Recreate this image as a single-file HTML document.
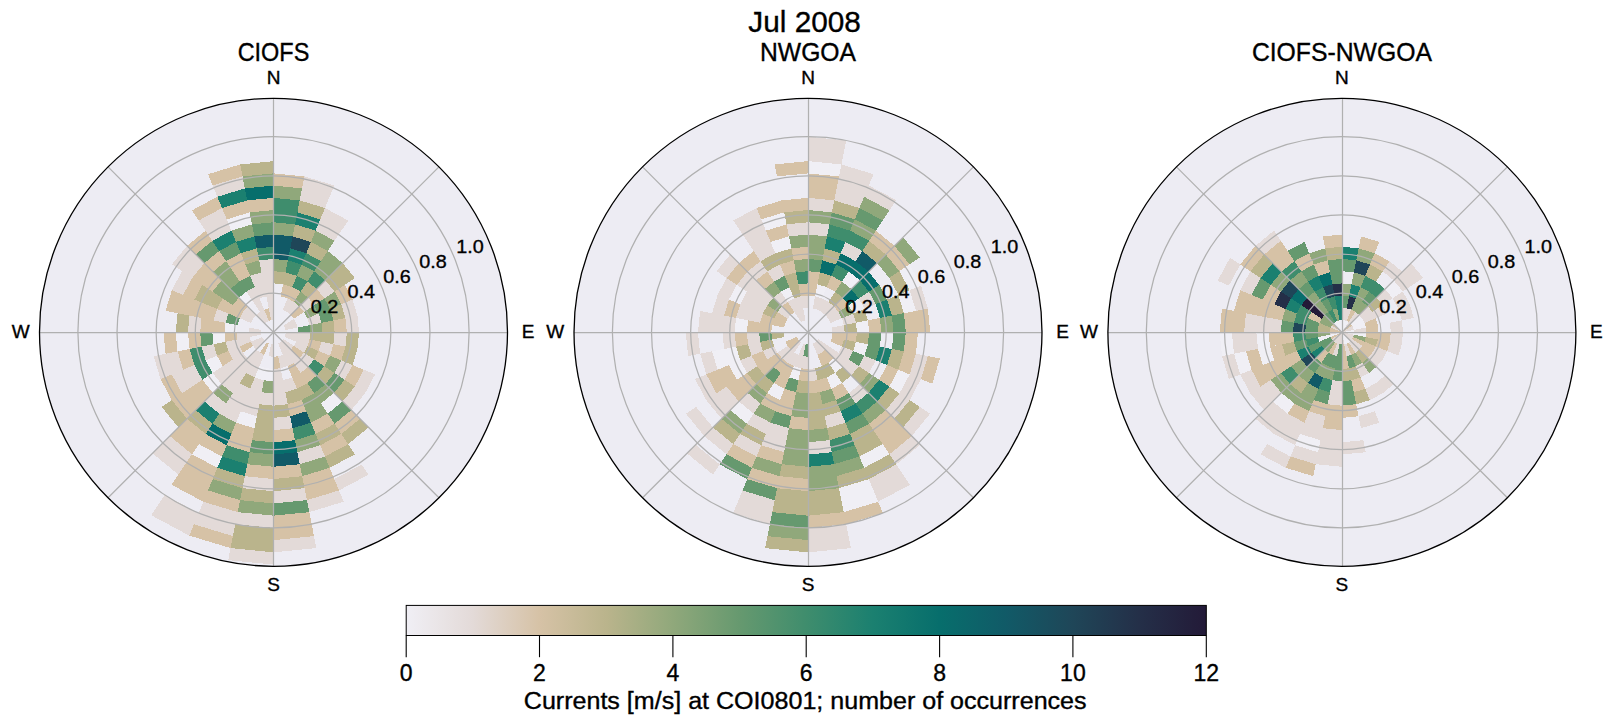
<!DOCTYPE html><html><head><meta charset="utf-8"><style>html,body{margin:0;padding:0;background:#fff;overflow:hidden}svg{display:block}text{font-family:"Liberation Sans",sans-serif;fill:#000;stroke:#000;stroke-width:0.35px}</style></head><body>
<svg width="1611" height="724" viewBox="0 0 1611 724">
<rect width="1611" height="724" fill="#fff"/>
<circle cx="273.50" cy="332.30" r="234.00" fill="#edecf3"/>
<g shape-rendering="crispEdges"><polygon points="273.50,283.40 273.50,271.18 285.42,272.35 283.04,284.34" fill="#bab48c"/>
<polygon points="273.50,271.18 273.50,258.95 287.81,260.36 285.42,272.35" fill="#90a87b"/>
<polygon points="273.50,258.95 273.50,246.73 290.19,248.37 287.81,260.36" fill="#115a67"/>
<polygon points="273.50,246.73 273.50,234.50 292.58,236.38 290.19,248.37" fill="#115a67"/>
<polygon points="273.50,234.50 273.50,222.28 294.96,224.39 292.58,236.38" fill="#90a87b"/>
<polygon points="273.50,222.28 273.50,210.05 297.35,212.40 294.96,224.39" fill="#3f8d6d"/>
<polygon points="273.50,210.05 273.50,197.83 299.73,200.41 297.35,212.40" fill="#3f8d6d"/>
<polygon points="273.50,197.83 273.50,185.60 302.12,188.42 299.73,200.41" fill="#90a87b"/>
<polygon points="273.50,185.60 273.50,173.38 304.50,176.43 302.12,188.42" fill="#d6c2a6"/>
<polygon points="280.65,296.33 283.04,284.34 292.21,287.12 287.53,298.42" fill="#d6c2a6"/>
<polygon points="283.04,284.34 285.42,272.35 296.89,275.83 292.21,287.12" fill="#bab48c"/>
<polygon points="285.42,272.35 287.81,260.36 301.57,264.53 296.89,275.83" fill="#3f8d6d"/>
<polygon points="287.81,260.36 290.19,248.37 306.25,253.24 301.57,264.53" fill="#1b8070"/>
<polygon points="290.19,248.37 292.58,236.38 310.93,241.94 306.25,253.24" fill="#1f4658"/>
<polygon points="292.58,236.38 294.96,224.39 315.60,230.65 310.93,241.94" fill="#bab48c"/>
<polygon points="294.96,224.39 297.35,212.40 320.28,219.36 315.60,230.65" fill="#1b8070"/>
<polygon points="297.35,212.40 299.73,200.41 324.96,208.06 320.28,219.36" fill="#bab48c"/>
<polygon points="299.73,200.41 302.12,188.42 329.64,196.77 324.96,208.06" fill="#e3dad8"/>
<polygon points="302.12,188.42 304.50,176.43 334.32,185.47 329.64,196.77" fill="#e3dad8"/>
<polygon points="282.86,309.71 287.53,298.42 293.88,301.81 287.08,311.97" fill="#e3dad8"/>
<polygon points="287.53,298.42 292.21,287.12 300.67,291.64 293.88,301.81" fill="#d6c2a6"/>
<polygon points="292.21,287.12 296.89,275.83 307.46,281.48 300.67,291.64" fill="#3f8d6d"/>
<polygon points="296.89,275.83 301.57,264.53 314.25,271.31 307.46,281.48" fill="#90a87b"/>
<polygon points="301.57,264.53 306.25,253.24 321.04,261.15 314.25,271.31" fill="#3f8d6d"/>
<polygon points="306.25,253.24 310.93,241.94 327.83,250.98 321.04,261.15" fill="#bab48c"/>
<polygon points="310.93,241.94 315.60,230.65 334.63,240.82 327.83,250.98" fill="#90a87b"/>
<polygon points="315.60,230.65 320.28,219.36 341.42,230.65 334.63,240.82" fill="#e3dad8"/>
<polygon points="320.28,219.36 324.96,208.06 348.21,220.49 341.42,230.65" fill="#e3dad8"/>
<polygon points="287.08,311.97 293.88,301.81 299.43,306.37 290.79,315.01" fill="#e3dad8"/>
<polygon points="293.88,301.81 300.67,291.64 308.08,297.72 299.43,306.37" fill="#90a87b"/>
<polygon points="300.67,291.64 307.46,281.48 316.72,289.08 308.08,297.72" fill="#bab48c"/>
<polygon points="307.46,281.48 314.25,271.31 325.37,280.43 316.72,289.08" fill="#3f8d6d"/>
<polygon points="314.25,271.31 321.04,261.15 334.01,271.79 325.37,280.43" fill="#90a87b"/>
<polygon points="321.04,261.15 327.83,250.98 342.66,263.14 334.01,271.79" fill="#90a87b"/>
<polygon points="290.79,315.01 299.43,306.37 303.99,311.92 293.83,318.72" fill="#d6c2a6"/>
<polygon points="299.43,306.37 308.08,297.72 314.16,305.13 303.99,311.92" fill="#e3dad8"/>
<polygon points="308.08,297.72 316.72,289.08 324.32,298.34 314.16,305.13" fill="#d6c2a6"/>
<polygon points="316.72,289.08 325.37,280.43 334.49,291.55 324.32,298.34" fill="#e3dad8"/>
<polygon points="325.37,280.43 334.01,271.79 344.65,284.76 334.49,291.55" fill="#bab48c"/>
<polygon points="334.01,271.79 342.66,263.14 354.82,277.97 344.65,284.76" fill="#bab48c"/>
<polygon points="283.66,325.51 293.83,318.72 296.09,322.94 284.79,327.62" fill="#e3dad8"/>
<polygon points="303.99,311.92 314.16,305.13 318.68,313.59 307.38,318.27" fill="#90a87b"/>
<polygon points="314.16,305.13 324.32,298.34 329.97,308.91 318.68,313.59" fill="#66996f"/>
<polygon points="324.32,298.34 334.49,291.55 341.27,304.23 329.97,308.91" fill="#90a87b"/>
<polygon points="334.49,291.55 344.65,284.76 352.56,299.55 341.27,304.23" fill="#d6c2a6"/>
<polygon points="284.79,327.62 296.09,322.94 297.48,327.53 285.49,329.92" fill="#e3dad8"/>
<polygon points="307.38,318.27 318.68,313.59 321.46,322.76 309.47,325.15" fill="#e3dad8"/>
<polygon points="318.68,313.59 329.97,308.91 333.45,320.38 321.46,322.76" fill="#66996f"/>
<polygon points="329.97,308.91 341.27,304.23 345.44,317.99 333.45,320.38" fill="#bab48c"/>
<polygon points="341.27,304.23 352.56,299.55 357.43,315.61 345.44,317.99" fill="#e3dad8"/>
<polygon points="297.48,327.53 309.47,325.15 310.18,332.30 297.95,332.30" fill="#66996f"/>
<polygon points="309.47,325.15 321.46,322.76 322.40,332.30 310.18,332.30" fill="#90a87b"/>
<polygon points="321.46,322.76 333.45,320.38 334.62,332.30 322.40,332.30" fill="#bab48c"/>
<polygon points="333.45,320.38 345.44,317.99 346.85,332.30 334.62,332.30" fill="#d6c2a6"/>
<polygon points="345.44,317.99 357.43,315.61 359.07,332.30 346.85,332.30" fill="#e3dad8"/>
<polygon points="285.73,332.30 297.95,332.30 297.48,337.07 285.49,334.68" fill="#e3dad8"/>
<polygon points="297.95,332.30 310.18,332.30 309.47,339.45 297.48,337.07" fill="#e3dad8"/>
<polygon points="310.18,332.30 322.40,332.30 321.46,341.84 309.47,339.45" fill="#bab48c"/>
<polygon points="322.40,332.30 334.62,332.30 333.45,344.22 321.46,341.84" fill="#bab48c"/>
<polygon points="334.62,332.30 346.85,332.30 345.44,346.61 333.45,344.22" fill="#e3dad8"/>
<polygon points="346.85,332.30 359.07,332.30 357.43,348.99 345.44,346.61" fill="#bab48c"/>
<polygon points="285.49,334.68 297.48,337.07 296.09,341.66 284.79,336.98" fill="#e3dad8"/>
<polygon points="297.48,337.07 309.47,339.45 307.38,346.33 296.09,341.66" fill="#e3dad8"/>
<polygon points="309.47,339.45 321.46,341.84 318.68,351.01 307.38,346.33" fill="#d6c2a6"/>
<polygon points="321.46,341.84 333.45,344.22 329.97,355.69 318.68,351.01" fill="#e3dad8"/>
<polygon points="333.45,344.22 345.44,346.61 341.27,360.37 329.97,355.69" fill="#d6c2a6"/>
<polygon points="345.44,346.61 357.43,348.99 352.56,365.05 341.27,360.37" fill="#bab48c"/>
<polygon points="296.09,341.66 307.38,346.33 303.99,352.68 293.83,345.88" fill="#e3dad8"/>
<polygon points="307.38,346.33 318.68,351.01 314.16,359.47 303.99,352.68" fill="#bab48c"/>
<polygon points="318.68,351.01 329.97,355.69 324.32,366.26 314.16,359.47" fill="#d6c2a6"/>
<polygon points="329.97,355.69 341.27,360.37 334.49,373.05 324.32,366.26" fill="#90a87b"/>
<polygon points="341.27,360.37 352.56,365.05 344.65,379.84 334.49,373.05" fill="#e3dad8"/>
<polygon points="352.56,365.05 363.86,369.73 354.82,386.63 344.65,379.84" fill="#d6c2a6"/>
<polygon points="363.86,369.73 375.15,374.40 364.98,393.43 354.82,386.63" fill="#e3dad8"/>
<polygon points="283.66,339.09 293.83,345.88 290.79,349.59 282.14,340.94" fill="#e3dad8"/>
<polygon points="293.83,345.88 303.99,352.68 299.43,358.23 290.79,349.59" fill="#d6c2a6"/>
<polygon points="303.99,352.68 314.16,359.47 308.08,366.88 299.43,358.23" fill="#e3dad8"/>
<polygon points="314.16,359.47 324.32,366.26 316.72,375.52 308.08,366.88" fill="#3f8d6d"/>
<polygon points="324.32,366.26 334.49,373.05 325.37,384.17 316.72,375.52" fill="#bab48c"/>
<polygon points="334.49,373.05 344.65,379.84 334.01,392.81 325.37,384.17" fill="#66996f"/>
<polygon points="344.65,379.84 354.82,386.63 342.66,401.46 334.01,392.81" fill="#bab48c"/>
<polygon points="354.82,386.63 364.98,393.43 351.30,410.10 342.66,401.46" fill="#e3dad8"/>
<polygon points="282.14,340.94 290.79,349.59 287.08,352.63 280.29,342.46" fill="#e3dad8"/>
<polygon points="290.79,349.59 299.43,358.23 293.88,362.79 287.08,352.63" fill="#e3dad8"/>
<polygon points="299.43,358.23 308.08,366.88 300.67,372.96 293.88,362.79" fill="#e3dad8"/>
<polygon points="308.08,366.88 316.72,375.52 307.46,383.12 300.67,372.96" fill="#d6c2a6"/>
<polygon points="316.72,375.52 325.37,384.17 314.25,393.29 307.46,383.12" fill="#66996f"/>
<polygon points="325.37,384.17 334.01,392.81 321.04,403.45 314.25,393.29" fill="#90a87b"/>
<polygon points="334.01,392.81 342.66,401.46 327.83,413.62 321.04,403.45" fill="#f0eff5"/>
<polygon points="342.66,401.46 351.30,410.10 334.63,423.78 327.83,413.62" fill="#66996f"/>
<polygon points="351.30,410.10 359.94,418.74 341.42,433.95 334.63,423.78" fill="#d6c2a6"/>
<polygon points="359.94,418.74 368.59,427.39 348.21,444.11 341.42,433.95" fill="#bab48c"/>
<polygon points="280.29,342.46 287.08,352.63 282.86,354.89 278.18,343.59" fill="#e3dad8"/>
<polygon points="287.08,352.63 293.88,362.79 287.53,366.18 282.86,354.89" fill="#e3dad8"/>
<polygon points="293.88,362.79 300.67,372.96 292.21,377.48 287.53,366.18" fill="#d6c2a6"/>
<polygon points="300.67,372.96 307.46,383.12 296.89,388.77 292.21,377.48" fill="#d6c2a6"/>
<polygon points="307.46,383.12 314.25,393.29 301.57,400.07 296.89,388.77" fill="#bab48c"/>
<polygon points="314.25,393.29 321.04,403.45 306.25,411.36 301.57,400.07" fill="#90a87b"/>
<polygon points="321.04,403.45 327.83,413.62 310.93,422.66 306.25,411.36" fill="#90a87b"/>
<polygon points="327.83,413.62 334.63,423.78 315.60,433.95 310.93,422.66" fill="#d6c2a6"/>
<polygon points="334.63,423.78 341.42,433.95 320.28,445.24 315.60,433.95" fill="#bab48c"/>
<polygon points="341.42,433.95 348.21,444.11 324.96,456.54 320.28,445.24" fill="#d6c2a6"/>
<polygon points="348.21,444.11 355.00,454.28 329.64,467.83 324.96,456.54" fill="#bab48c"/>
<polygon points="361.79,464.44 368.59,474.61 339.00,490.42 334.32,479.13" fill="#e3dad8"/>
<polygon points="282.86,354.89 287.53,366.18 280.65,368.27 278.27,356.28" fill="#e3dad8"/>
<polygon points="292.21,377.48 296.89,388.77 285.42,392.25 283.04,380.26" fill="#e3dad8"/>
<polygon points="296.89,388.77 301.57,400.07 287.81,404.24 285.42,392.25" fill="#bab48c"/>
<polygon points="301.57,400.07 306.25,411.36 290.19,416.23 287.81,404.24" fill="#d6c2a6"/>
<polygon points="306.25,411.36 310.93,422.66 292.58,428.22 290.19,416.23" fill="#115a67"/>
<polygon points="310.93,422.66 315.60,433.95 294.96,440.21 292.58,428.22" fill="#3f8d6d"/>
<polygon points="315.60,433.95 320.28,445.24 297.35,452.20 294.96,440.21" fill="#90a87b"/>
<polygon points="320.28,445.24 324.96,456.54 299.73,464.19 297.35,452.20" fill="#e3dad8"/>
<polygon points="324.96,456.54 329.64,467.83 302.12,476.18 299.73,464.19" fill="#90a87b"/>
<polygon points="329.64,467.83 334.32,479.13 304.50,488.17 302.12,476.18" fill="#d6c2a6"/>
<polygon points="334.32,479.13 339.00,490.42 306.89,500.16 304.50,488.17" fill="#d6c2a6"/>
<polygon points="339.00,490.42 343.67,501.72 309.27,512.15 306.89,500.16" fill="#e3dad8"/>
<polygon points="278.27,356.28 280.65,368.27 273.50,368.98 273.50,356.75" fill="#d6c2a6"/>
<polygon points="280.65,368.27 283.04,380.26 273.50,381.20 273.50,368.98" fill="#e3dad8"/>
<polygon points="283.04,380.26 285.42,392.25 273.50,393.43 273.50,381.20" fill="#e3dad8"/>
<polygon points="285.42,392.25 287.81,404.24 273.50,405.65 273.50,393.43" fill="#e3dad8"/>
<polygon points="287.81,404.24 290.19,416.23 273.50,417.88 273.50,405.65" fill="#bab48c"/>
<polygon points="290.19,416.23 292.58,428.22 273.50,430.10 273.50,417.88" fill="#e3dad8"/>
<polygon points="292.58,428.22 294.96,440.21 273.50,442.32 273.50,430.10" fill="#d6c2a6"/>
<polygon points="294.96,440.21 297.35,452.20 273.50,454.55 273.50,442.32" fill="#076e6c"/>
<polygon points="297.35,452.20 299.73,464.19 273.50,466.77 273.50,454.55" fill="#115a67"/>
<polygon points="299.73,464.19 302.12,476.18 273.50,479.00 273.50,466.77" fill="#d6c2a6"/>
<polygon points="302.12,476.18 304.50,488.17 273.50,491.23 273.50,479.00" fill="#bab48c"/>
<polygon points="304.50,488.17 306.89,500.16 273.50,503.45 273.50,491.23" fill="#e3dad8"/>
<polygon points="306.89,500.16 309.27,512.15 273.50,515.67 273.50,503.45" fill="#66996f"/>
<polygon points="309.27,512.15 311.66,524.14 273.50,527.90 273.50,515.67" fill="#d6c2a6"/>
<polygon points="311.66,524.14 314.04,536.13 273.50,540.12 273.50,527.90" fill="#d6c2a6"/>
<polygon points="314.04,536.13 316.43,548.12 273.50,552.35 273.50,540.12" fill="#e3dad8"/>
<polygon points="273.50,344.53 273.50,356.75 268.73,356.28 271.12,344.29" fill="#e3dad8"/>
<polygon points="273.50,368.98 273.50,381.20 263.96,380.26 266.35,368.27" fill="#f0eff5"/>
<polygon points="273.50,381.20 273.50,393.43 261.58,392.25 263.96,380.26" fill="#90a87b"/>
<polygon points="273.50,393.43 273.50,405.65 259.19,404.24 261.58,392.25" fill="#e3dad8"/>
<polygon points="273.50,405.65 273.50,417.88 256.81,416.23 259.19,404.24" fill="#bab48c"/>
<polygon points="273.50,417.88 273.50,430.10 254.42,428.22 256.81,416.23" fill="#bab48c"/>
<polygon points="273.50,430.10 273.50,442.32 252.04,440.21 254.42,428.22" fill="#bab48c"/>
<polygon points="273.50,442.32 273.50,454.55 249.65,452.20 252.04,440.21" fill="#66996f"/>
<polygon points="273.50,454.55 273.50,466.77 247.27,464.19 249.65,452.20" fill="#90a87b"/>
<polygon points="273.50,466.77 273.50,479.00 244.88,476.18 247.27,464.19" fill="#d6c2a6"/>
<polygon points="273.50,479.00 273.50,491.23 242.50,488.17 244.88,476.18" fill="#e3dad8"/>
<polygon points="273.50,491.23 273.50,503.45 240.11,500.16 242.50,488.17" fill="#bab48c"/>
<polygon points="273.50,503.45 273.50,515.67 237.73,512.15 240.11,500.16" fill="#90a87b"/>
<polygon points="273.50,515.67 273.50,527.90 235.34,524.14 237.73,512.15" fill="#e3dad8"/>
<polygon points="273.50,527.90 273.50,540.12 232.96,536.13 235.34,524.14" fill="#bab48c"/>
<polygon points="273.50,540.12 273.50,552.35 230.57,548.12 232.96,536.13" fill="#bab48c"/>
<polygon points="273.50,552.35 273.50,564.58 228.19,560.11 230.57,548.12" fill="#e3dad8"/>
<polygon points="266.35,368.27 263.96,380.26 254.79,377.48 259.47,366.18" fill="#f0eff5"/>
<polygon points="263.96,380.26 261.58,392.25 250.11,388.77 254.79,377.48" fill="#e3dad8"/>
<polygon points="261.58,392.25 259.19,404.24 245.43,400.07 250.11,388.77" fill="#e3dad8"/>
<polygon points="259.19,404.24 256.81,416.23 240.75,411.36 245.43,400.07" fill="#e3dad8"/>
<polygon points="256.81,416.23 254.42,428.22 236.07,422.66 240.75,411.36" fill="#f0eff5"/>
<polygon points="254.42,428.22 252.04,440.21 231.40,433.95 236.07,422.66" fill="#d6c2a6"/>
<polygon points="252.04,440.21 249.65,452.20 226.72,445.24 231.40,433.95" fill="#d6c2a6"/>
<polygon points="249.65,452.20 247.27,464.19 222.04,456.54 226.72,445.24" fill="#3f8d6d"/>
<polygon points="247.27,464.19 244.88,476.18 217.36,467.83 222.04,456.54" fill="#1b8070"/>
<polygon points="244.88,476.18 242.50,488.17 212.68,479.13 217.36,467.83" fill="#bab48c"/>
<polygon points="242.50,488.17 240.11,500.16 208.00,490.42 212.68,479.13" fill="#90a87b"/>
<polygon points="240.11,500.16 237.73,512.15 203.33,501.72 208.00,490.42" fill="#d6c2a6"/>
<polygon points="237.73,512.15 235.34,524.14 198.65,513.01 203.33,501.72" fill="#e3dad8"/>
<polygon points="235.34,524.14 232.96,536.13 193.97,524.31 198.65,513.01" fill="#e3dad8"/>
<polygon points="232.96,536.13 230.57,548.12 189.29,535.60 193.97,524.31" fill="#d6c2a6"/>
<polygon points="268.82,343.59 264.14,354.89 259.92,352.63 266.71,342.46" fill="#d6c2a6"/>
<polygon points="264.14,354.89 259.47,366.18 253.12,362.79 259.92,352.63" fill="#e3dad8"/>
<polygon points="259.47,366.18 254.79,377.48 246.33,372.96 253.12,362.79" fill="#e3dad8"/>
<polygon points="254.79,377.48 250.11,388.77 239.54,383.12 246.33,372.96" fill="#bab48c"/>
<polygon points="250.11,388.77 245.43,400.07 232.75,393.29 239.54,383.12" fill="#e3dad8"/>
<polygon points="245.43,400.07 240.75,411.36 225.96,403.45 232.75,393.29" fill="#e3dad8"/>
<polygon points="240.75,411.36 236.07,422.66 219.17,413.62 225.96,403.45" fill="#e3dad8"/>
<polygon points="236.07,422.66 231.40,433.95 212.37,423.78 219.17,413.62" fill="#90a87b"/>
<polygon points="231.40,433.95 226.72,445.24 205.58,433.95 212.37,423.78" fill="#076e6c"/>
<polygon points="226.72,445.24 222.04,456.54 198.79,444.11 205.58,433.95" fill="#d6c2a6"/>
<polygon points="222.04,456.54 217.36,467.83 192.00,454.28 198.79,444.11" fill="#f0eff5"/>
<polygon points="217.36,467.83 212.68,479.13 185.21,464.44 192.00,454.28" fill="#d6c2a6"/>
<polygon points="212.68,479.13 208.00,490.42 178.41,474.61 185.21,464.44" fill="#d6c2a6"/>
<polygon points="208.00,490.42 203.33,501.72 171.62,484.77 178.41,474.61" fill="#d6c2a6"/>
<polygon points="198.65,513.01 193.97,524.31 158.04,505.10 164.83,494.94" fill="#e3dad8"/>
<polygon points="193.97,524.31 189.29,535.60 151.25,515.26 158.04,505.10" fill="#e3dad8"/>
<polygon points="259.92,352.63 253.12,362.79 247.57,358.23 256.21,349.59" fill="#e3dad8"/>
<polygon points="253.12,362.79 246.33,372.96 238.92,366.88 247.57,358.23" fill="#e3dad8"/>
<polygon points="246.33,372.96 239.54,383.12 230.28,375.52 238.92,366.88" fill="#e3dad8"/>
<polygon points="239.54,383.12 232.75,393.29 221.63,384.17 230.28,375.52" fill="#e3dad8"/>
<polygon points="232.75,393.29 225.96,403.45 212.99,392.81 221.63,384.17" fill="#90a87b"/>
<polygon points="225.96,403.45 219.17,413.62 204.34,401.46 212.99,392.81" fill="#e3dad8"/>
<polygon points="219.17,413.62 212.37,423.78 195.70,410.10 204.34,401.46" fill="#1b8070"/>
<polygon points="212.37,423.78 205.58,433.95 187.06,418.74 195.70,410.10" fill="#bab48c"/>
<polygon points="205.58,433.95 198.79,444.11 178.41,427.39 187.06,418.74" fill="#d6c2a6"/>
<polygon points="198.79,444.11 192.00,454.28 169.77,436.03 178.41,427.39" fill="#d6c2a6"/>
<polygon points="192.00,454.28 185.21,464.44 161.12,444.68 169.77,436.03" fill="#e3dad8"/>
<polygon points="185.21,464.44 178.41,474.61 152.48,453.32 161.12,444.68" fill="#e3dad8"/>
<polygon points="264.86,340.94 256.21,349.59 253.17,345.88 263.34,339.09" fill="#e3dad8"/>
<polygon points="247.57,358.23 238.92,366.88 232.84,359.47 243.01,352.68" fill="#e3dad8"/>
<polygon points="238.92,366.88 230.28,375.52 222.68,366.26 232.84,359.47" fill="#e3dad8"/>
<polygon points="230.28,375.52 221.63,384.17 212.51,373.05 222.68,366.26" fill="#e3dad8"/>
<polygon points="221.63,384.17 212.99,392.81 202.35,379.84 212.51,373.05" fill="#f0eff5"/>
<polygon points="212.99,392.81 204.34,401.46 192.18,386.63 202.35,379.84" fill="#d6c2a6"/>
<polygon points="204.34,401.46 195.70,410.10 182.02,393.43 192.18,386.63" fill="#d6c2a6"/>
<polygon points="195.70,410.10 187.06,418.74 171.85,400.22 182.02,393.43" fill="#d6c2a6"/>
<polygon points="187.06,418.74 178.41,427.39 161.69,407.01 171.85,400.22" fill="#bab48c"/>
<polygon points="263.34,339.09 253.17,345.88 250.91,341.66 262.21,336.98" fill="#e3dad8"/>
<polygon points="253.17,345.88 243.01,352.68 239.62,346.33 250.91,341.66" fill="#d6c2a6"/>
<polygon points="243.01,352.68 232.84,359.47 228.32,351.01 239.62,346.33" fill="#e3dad8"/>
<polygon points="232.84,359.47 222.68,366.26 217.03,355.69 228.32,351.01" fill="#d6c2a6"/>
<polygon points="222.68,366.26 212.51,373.05 205.73,360.37 217.03,355.69" fill="#f0eff5"/>
<polygon points="212.51,373.05 202.35,379.84 194.44,365.05 205.73,360.37" fill="#3f8d6d"/>
<polygon points="202.35,379.84 192.18,386.63 183.14,369.73 194.44,365.05" fill="#e3dad8"/>
<polygon points="192.18,386.63 182.02,393.43 171.85,374.40 183.14,369.73" fill="#e3dad8"/>
<polygon points="182.02,393.43 171.85,400.22 160.56,379.08 171.85,374.40" fill="#d6c2a6"/>
<polygon points="250.91,341.66 239.62,346.33 237.53,339.45 249.52,337.07" fill="#e3dad8"/>
<polygon points="239.62,346.33 228.32,351.01 225.54,341.84 237.53,339.45" fill="#e3dad8"/>
<polygon points="228.32,351.01 217.03,355.69 213.55,344.22 225.54,341.84" fill="#bab48c"/>
<polygon points="217.03,355.69 205.73,360.37 201.56,346.61 213.55,344.22" fill="#e3dad8"/>
<polygon points="205.73,360.37 194.44,365.05 189.57,348.99 201.56,346.61" fill="#3f8d6d"/>
<polygon points="194.44,365.05 183.14,369.73 177.58,351.38 189.57,348.99" fill="#d6c2a6"/>
<polygon points="183.14,369.73 171.85,374.40 165.59,353.76 177.58,351.38" fill="#e3dad8"/>
<polygon points="171.85,374.40 160.56,379.08 153.60,356.15 165.59,353.76" fill="#e3dad8"/>
<polygon points="261.51,334.68 249.52,337.07 249.05,332.30 261.27,332.30" fill="#e3dad8"/>
<polygon points="249.52,337.07 237.53,339.45 236.82,332.30 249.05,332.30" fill="#e3dad8"/>
<polygon points="237.53,339.45 225.54,341.84 224.60,332.30 236.82,332.30" fill="#d6c2a6"/>
<polygon points="225.54,341.84 213.55,344.22 212.38,332.30 224.60,332.30" fill="#f0eff5"/>
<polygon points="213.55,344.22 201.56,346.61 200.15,332.30 212.38,332.30" fill="#66996f"/>
<polygon points="201.56,346.61 189.57,348.99 187.93,332.30 200.15,332.30" fill="#d6c2a6"/>
<polygon points="189.57,348.99 177.58,351.38 175.70,332.30 187.93,332.30" fill="#f0eff5"/>
<polygon points="177.58,351.38 165.59,353.76 163.48,332.30 175.70,332.30" fill="#d6c2a6"/>
<polygon points="261.27,332.30 249.05,332.30 249.52,327.53 261.51,329.92" fill="#e3dad8"/>
<polygon points="236.82,332.30 224.60,332.30 225.54,322.76 237.53,325.15" fill="#f0eff5"/>
<polygon points="224.60,332.30 212.38,332.30 213.55,320.38 225.54,322.76" fill="#d6c2a6"/>
<polygon points="212.38,332.30 200.15,332.30 201.56,317.99 213.55,320.38" fill="#d6c2a6"/>
<polygon points="200.15,332.30 187.93,332.30 189.57,315.61 201.56,317.99" fill="#e3dad8"/>
<polygon points="187.93,332.30 175.70,332.30 177.58,313.22 189.57,315.61" fill="#bab48c"/>
<polygon points="237.53,325.15 225.54,322.76 228.32,313.59 239.62,318.27" fill="#66996f"/>
<polygon points="225.54,322.76 213.55,320.38 217.03,308.91 228.32,313.59" fill="#e3dad8"/>
<polygon points="213.55,320.38 201.56,317.99 205.73,304.23 217.03,308.91" fill="#d6c2a6"/>
<polygon points="201.56,317.99 189.57,315.61 194.44,299.55 205.73,304.23" fill="#d6c2a6"/>
<polygon points="189.57,315.61 177.58,313.22 183.14,294.87 194.44,299.55" fill="#d6c2a6"/>
<polygon points="177.58,313.22 165.59,310.84 171.85,290.20 183.14,294.87" fill="#d6c2a6"/>
<polygon points="250.91,322.94 239.62,318.27 243.01,311.92 253.17,318.72" fill="#e3dad8"/>
<polygon points="239.62,318.27 228.32,313.59 232.84,305.13 243.01,311.92" fill="#d6c2a6"/>
<polygon points="228.32,313.59 217.03,308.91 222.68,298.34 232.84,305.13" fill="#d6c2a6"/>
<polygon points="217.03,308.91 205.73,304.23 212.51,291.55 222.68,298.34" fill="#bab48c"/>
<polygon points="205.73,304.23 194.44,299.55 202.35,284.76 212.51,291.55" fill="#bab48c"/>
<polygon points="194.44,299.55 183.14,294.87 192.18,277.97 202.35,284.76" fill="#d6c2a6"/>
<polygon points="183.14,294.87 171.85,290.20 182.02,271.17 192.18,277.97" fill="#e3dad8"/>
<polygon points="253.17,318.72 243.01,311.92 247.57,306.37 256.21,315.01" fill="#e3dad8"/>
<polygon points="243.01,311.92 232.84,305.13 238.92,297.72 247.57,306.37" fill="#d6c2a6"/>
<polygon points="232.84,305.13 222.68,298.34 230.28,289.08 238.92,297.72" fill="#90a87b"/>
<polygon points="222.68,298.34 212.51,291.55 221.63,280.43 230.28,289.08" fill="#90a87b"/>
<polygon points="212.51,291.55 202.35,284.76 212.99,271.79 221.63,280.43" fill="#d6c2a6"/>
<polygon points="202.35,284.76 192.18,277.97 204.34,263.14 212.99,271.79" fill="#d6c2a6"/>
<polygon points="192.18,277.97 182.02,271.17 195.70,254.50 204.34,263.14" fill="#e3dad8"/>
<polygon points="182.02,271.17 171.85,264.38 187.06,245.86 195.70,254.50" fill="#e3dad8"/>
<polygon points="264.86,323.66 256.21,315.01 259.92,311.97 266.71,322.14" fill="#e3dad8"/>
<polygon points="247.57,306.37 238.92,297.72 246.33,291.64 253.12,301.81" fill="#f0eff5"/>
<polygon points="238.92,297.72 230.28,289.08 239.54,281.48 246.33,291.64" fill="#66996f"/>
<polygon points="230.28,289.08 221.63,280.43 232.75,271.31 239.54,281.48" fill="#90a87b"/>
<polygon points="221.63,280.43 212.99,271.79 225.96,261.15 232.75,271.31" fill="#90a87b"/>
<polygon points="212.99,271.79 204.34,263.14 219.17,250.98 225.96,261.15" fill="#d6c2a6"/>
<polygon points="204.34,263.14 195.70,254.50 212.37,240.82 219.17,250.98" fill="#66996f"/>
<polygon points="195.70,254.50 187.06,245.86 205.58,230.65 212.37,240.82" fill="#d6c2a6"/>
<polygon points="266.71,322.14 259.92,311.97 264.14,309.71 268.82,321.01" fill="#e3dad8"/>
<polygon points="259.92,311.97 253.12,301.81 259.47,298.42 264.14,309.71" fill="#e3dad8"/>
<polygon points="253.12,301.81 246.33,291.64 254.79,287.12 259.47,298.42" fill="#e3dad8"/>
<polygon points="246.33,291.64 239.54,281.48 250.11,275.83 254.79,287.12" fill="#66996f"/>
<polygon points="239.54,281.48 232.75,271.31 245.43,264.53 250.11,275.83" fill="#d6c2a6"/>
<polygon points="232.75,271.31 225.96,261.15 240.75,253.24 245.43,264.53" fill="#d6c2a6"/>
<polygon points="225.96,261.15 219.17,250.98 236.07,241.94 240.75,253.24" fill="#66996f"/>
<polygon points="219.17,250.98 212.37,240.82 231.40,230.65 236.07,241.94" fill="#1b8070"/>
<polygon points="212.37,240.82 205.58,230.65 226.72,219.36 231.40,230.65" fill="#e3dad8"/>
<polygon points="205.58,230.65 198.79,220.49 222.04,208.06 226.72,219.36" fill="#e3dad8"/>
<polygon points="198.79,220.49 192.00,210.32 217.36,196.77 222.04,208.06" fill="#d6c2a6"/>
<polygon points="268.82,321.01 264.14,309.71 268.73,308.32 271.12,320.31" fill="#d6c2a6"/>
<polygon points="259.47,298.42 254.79,287.12 263.96,284.34 266.35,296.33" fill="#e3dad8"/>
<polygon points="254.79,287.12 250.11,275.83 261.58,272.35 263.96,284.34" fill="#e3dad8"/>
<polygon points="250.11,275.83 245.43,264.53 259.19,260.36 261.58,272.35" fill="#90a87b"/>
<polygon points="245.43,264.53 240.75,253.24 256.81,248.37 259.19,260.36" fill="#bab48c"/>
<polygon points="240.75,253.24 236.07,241.94 254.42,236.38 256.81,248.37" fill="#1b8070"/>
<polygon points="236.07,241.94 231.40,230.65 252.04,224.39 254.42,236.38" fill="#90a87b"/>
<polygon points="231.40,230.65 226.72,219.36 249.65,212.40 252.04,224.39" fill="#f0eff5"/>
<polygon points="226.72,219.36 222.04,208.06 247.27,200.41 249.65,212.40" fill="#d6c2a6"/>
<polygon points="222.04,208.06 217.36,196.77 244.88,188.42 247.27,200.41" fill="#1b8070"/>
<polygon points="217.36,196.77 212.68,185.47 242.50,176.43 244.88,188.42" fill="#e3dad8"/>
<polygon points="212.68,185.47 208.00,174.18 240.11,164.44 242.50,176.43" fill="#d6c2a6"/>
<polygon points="271.12,320.31 268.73,308.32 273.50,307.85 273.50,320.07" fill="#e3dad8"/>
<polygon points="268.73,308.32 266.35,296.33 273.50,295.62 273.50,307.85" fill="#e3dad8"/>
<polygon points="266.35,296.33 263.96,284.34 273.50,283.40 273.50,295.62" fill="#e3dad8"/>
<polygon points="263.96,284.34 261.58,272.35 273.50,271.18 273.50,283.40" fill="#e3dad8"/>
<polygon points="261.58,272.35 259.19,260.36 273.50,258.95 273.50,271.18" fill="#e3dad8"/>
<polygon points="259.19,260.36 256.81,248.37 273.50,246.73 273.50,258.95" fill="#3f8d6d"/>
<polygon points="256.81,248.37 254.42,236.38 273.50,234.50 273.50,246.73" fill="#115a67"/>
<polygon points="254.42,236.38 252.04,224.39 273.50,222.28 273.50,234.50" fill="#66996f"/>
<polygon points="252.04,224.39 249.65,212.40 273.50,210.05 273.50,222.28" fill="#90a87b"/>
<polygon points="249.65,212.40 247.27,200.41 273.50,197.83 273.50,210.05" fill="#d6c2a6"/>
<polygon points="247.27,200.41 244.88,188.42 273.50,185.60 273.50,197.83" fill="#076e6c"/>
<polygon points="244.88,188.42 242.50,176.43 273.50,173.38 273.50,185.60" fill="#90a87b"/>
<polygon points="242.50,176.43 240.11,164.44 273.50,161.15 273.50,173.38" fill="#bab48c"/></g>
<circle cx="273.50" cy="332.30" r="39.12" fill="none" stroke="#b0b0b0" stroke-width="1.25"/>
<circle cx="273.50" cy="332.30" r="78.24" fill="none" stroke="#b0b0b0" stroke-width="1.25"/>
<circle cx="273.50" cy="332.30" r="117.36" fill="none" stroke="#b0b0b0" stroke-width="1.25"/>
<circle cx="273.50" cy="332.30" r="156.48" fill="none" stroke="#b0b0b0" stroke-width="1.25"/>
<circle cx="273.50" cy="332.30" r="195.60" fill="none" stroke="#b0b0b0" stroke-width="1.25"/>
<line x1="273.50" y1="332.30" x2="273.50" y2="98.30" stroke="#b0b0b0" stroke-width="1.25"/>
<line x1="273.50" y1="332.30" x2="438.96" y2="166.84" stroke="#b0b0b0" stroke-width="1.25"/>
<line x1="273.50" y1="332.50" x2="507.50" y2="332.50" stroke="#b0b0b0" stroke-width="1.25"/>
<line x1="273.50" y1="332.30" x2="438.96" y2="497.76" stroke="#b0b0b0" stroke-width="1.25"/>
<line x1="273.50" y1="332.30" x2="273.50" y2="566.30" stroke="#b0b0b0" stroke-width="1.25"/>
<line x1="273.50" y1="332.30" x2="108.04" y2="497.76" stroke="#b0b0b0" stroke-width="1.25"/>
<line x1="273.50" y1="332.50" x2="39.50" y2="332.50" stroke="#b0b0b0" stroke-width="1.25"/>
<line x1="273.50" y1="332.30" x2="108.04" y2="166.84" stroke="#b0b0b0" stroke-width="1.25"/>
<circle cx="273.50" cy="332.30" r="234.00" fill="none" stroke="#000" stroke-width="1.3"/>
<text x="273.5" y="83.7" font-size="19.0" text-anchor="middle">N</text>
<text x="273.5" y="591.0" font-size="19.0" text-anchor="middle">S</text>
<text x="20.6" y="337.9" font-size="19.0" text-anchor="middle">W</text>
<text x="528.0" y="337.9" font-size="19.0" text-anchor="middle">E</text>
<text x="324.5" y="312.8" font-size="19.0" text-anchor="middle" textLength="27.5" lengthAdjust="spacingAndGlyphs">0.2</text>
<text x="361.2" y="298.0" font-size="19.0" text-anchor="middle" textLength="27.5" lengthAdjust="spacingAndGlyphs">0.4</text>
<text x="397.1" y="282.8" font-size="19.0" text-anchor="middle" textLength="27.5" lengthAdjust="spacingAndGlyphs">0.6</text>
<text x="433.0" y="267.7" font-size="19.0" text-anchor="middle" textLength="27.5" lengthAdjust="spacingAndGlyphs">0.8</text>
<text x="469.9" y="253.1" font-size="19.0" text-anchor="middle" textLength="27.5" lengthAdjust="spacingAndGlyphs">1.0</text>
<text x="273.5" y="60.9" font-size="25.0" text-anchor="middle" textLength="71.6" lengthAdjust="spacingAndGlyphs">CIOFS</text>
<circle cx="808.00" cy="332.30" r="234.00" fill="#edecf3"/>
<g shape-rendering="crispEdges"><polygon points="808.00,295.62 808.00,283.40 817.54,284.34 815.15,296.33" fill="#d6c2a6"/>
<polygon points="808.00,283.40 808.00,271.18 819.92,272.35 817.54,284.34" fill="#d6c2a6"/>
<polygon points="808.00,271.18 808.00,258.95 822.31,260.36 819.92,272.35" fill="#66996f"/>
<polygon points="808.00,258.95 808.00,246.73 824.69,248.37 822.31,260.36" fill="#90a87b"/>
<polygon points="808.00,246.73 808.00,234.50 827.08,236.38 824.69,248.37" fill="#90a87b"/>
<polygon points="808.00,234.50 808.00,222.28 829.46,224.39 827.08,236.38" fill="#e3dad8"/>
<polygon points="808.00,222.28 808.00,210.05 831.85,212.40 829.46,224.39" fill="#90a87b"/>
<polygon points="808.00,210.05 808.00,197.83 834.23,200.41 831.85,212.40" fill="#e3dad8"/>
<polygon points="808.00,197.83 808.00,185.60 836.62,188.42 834.23,200.41" fill="#d6c2a6"/>
<polygon points="808.00,185.60 808.00,173.38 839.00,176.43 836.62,188.42" fill="#d6c2a6"/>
<polygon points="808.00,173.38 808.00,161.15 841.39,164.44 839.00,176.43" fill="#f0eff5"/>
<polygon points="808.00,161.15 808.00,148.93 843.77,152.45 841.39,164.44" fill="#e3dad8"/>
<polygon points="808.00,148.93 808.00,136.70 846.16,140.46 843.77,152.45" fill="#e3dad8"/>
<polygon points="812.77,308.32 815.15,296.33 822.03,298.42 817.36,309.71" fill="#e3dad8"/>
<polygon points="815.15,296.33 817.54,284.34 826.71,287.12 822.03,298.42" fill="#f0eff5"/>
<polygon points="817.54,284.34 819.92,272.35 831.39,275.83 826.71,287.12" fill="#bab48c"/>
<polygon points="819.92,272.35 822.31,260.36 836.07,264.53 831.39,275.83" fill="#076e6c"/>
<polygon points="822.31,260.36 824.69,248.37 840.75,253.24 836.07,264.53" fill="#bab48c"/>
<polygon points="824.69,248.37 827.08,236.38 845.43,241.94 840.75,253.24" fill="#1b8070"/>
<polygon points="827.08,236.38 829.46,224.39 850.10,230.65 845.43,241.94" fill="#3f8d6d"/>
<polygon points="829.46,224.39 831.85,212.40 854.78,219.36 850.10,230.65" fill="#66996f"/>
<polygon points="831.85,212.40 834.23,200.41 859.46,208.06 854.78,219.36" fill="#bab48c"/>
<polygon points="834.23,200.41 836.62,188.42 864.14,196.77 859.46,208.06" fill="#e3dad8"/>
<polygon points="836.62,188.42 839.00,176.43 868.82,185.47 864.14,196.77" fill="#e3dad8"/>
<polygon points="839.00,176.43 841.39,164.44 873.50,174.18 868.82,185.47" fill="#e3dad8"/>
<polygon points="817.36,309.71 822.03,298.42 828.38,301.81 821.58,311.97" fill="#e3dad8"/>
<polygon points="826.71,287.12 831.39,275.83 841.96,281.48 835.17,291.64" fill="#d6c2a6"/>
<polygon points="831.39,275.83 836.07,264.53 848.75,271.31 841.96,281.48" fill="#3f8d6d"/>
<polygon points="836.07,264.53 840.75,253.24 855.54,261.15 848.75,271.31" fill="#076e6c"/>
<polygon points="840.75,253.24 845.43,241.94 862.33,250.98 855.54,261.15" fill="#e3dad8"/>
<polygon points="845.43,241.94 850.10,230.65 869.13,240.82 862.33,250.98" fill="#3f8d6d"/>
<polygon points="850.10,230.65 854.78,219.36 875.92,230.65 869.13,240.82" fill="#90a87b"/>
<polygon points="854.78,219.36 859.46,208.06 882.71,220.49 875.92,230.65" fill="#66996f"/>
<polygon points="859.46,208.06 864.14,196.77 889.50,210.32 882.71,220.49" fill="#90a87b"/>
<polygon points="864.14,196.77 868.82,185.47 896.29,200.16 889.50,210.32" fill="#e3dad8"/>
<polygon points="821.58,311.97 828.38,301.81 833.93,306.37 825.29,315.01" fill="#e3dad8"/>
<polygon points="828.38,301.81 835.17,291.64 842.58,297.72 833.93,306.37" fill="#bab48c"/>
<polygon points="835.17,291.64 841.96,281.48 851.22,289.08 842.58,297.72" fill="#90a87b"/>
<polygon points="841.96,281.48 848.75,271.31 859.87,280.43 851.22,289.08" fill="#f0eff5"/>
<polygon points="848.75,271.31 855.54,261.15 868.51,271.79 859.87,280.43" fill="#076e6c"/>
<polygon points="855.54,261.15 862.33,250.98 877.16,263.14 868.51,271.79" fill="#115a67"/>
<polygon points="862.33,250.98 869.13,240.82 885.80,254.50 877.16,263.14" fill="#bab48c"/>
<polygon points="869.13,240.82 875.92,230.65 894.44,245.86 885.80,254.50" fill="#d6c2a6"/>
<polygon points="825.29,315.01 833.93,306.37 838.49,311.92 828.33,318.72" fill="#e3dad8"/>
<polygon points="833.93,306.37 842.58,297.72 848.66,305.13 838.49,311.92" fill="#d6c2a6"/>
<polygon points="842.58,297.72 851.22,289.08 858.82,298.34 848.66,305.13" fill="#076e6c"/>
<polygon points="851.22,289.08 859.87,280.43 868.99,291.55 858.82,298.34" fill="#3f8d6d"/>
<polygon points="859.87,280.43 868.51,271.79 879.15,284.76 868.99,291.55" fill="#076e6c"/>
<polygon points="877.16,263.14 885.80,254.50 899.48,271.17 889.32,277.97" fill="#90a87b"/>
<polygon points="885.80,254.50 894.44,245.86 909.65,264.38 899.48,271.17" fill="#d6c2a6"/>
<polygon points="894.44,245.86 903.09,237.21 919.81,257.59 909.65,264.38" fill="#90a87b"/>
<polygon points="828.33,318.72 838.49,311.92 841.88,318.27 830.59,322.94" fill="#e3dad8"/>
<polygon points="838.49,311.92 848.66,305.13 853.18,313.59 841.88,318.27" fill="#90a87b"/>
<polygon points="858.82,298.34 868.99,291.55 875.77,304.23 864.47,308.91" fill="#e3dad8"/>
<polygon points="868.99,291.55 879.15,284.76 887.06,299.55 875.77,304.23" fill="#66996f"/>
<polygon points="889.32,277.97 899.48,271.17 909.65,290.20 898.36,294.87" fill="#bab48c"/>
<polygon points="899.48,271.17 909.65,264.38 920.94,285.52 909.65,290.20" fill="#f0eff5"/>
<polygon points="841.88,318.27 853.18,313.59 855.96,322.76 843.97,325.15" fill="#e3dad8"/>
<polygon points="853.18,313.59 864.47,308.91 867.95,320.38 855.96,322.76" fill="#bab48c"/>
<polygon points="875.77,304.23 887.06,299.55 891.93,315.61 879.94,317.99" fill="#1b8070"/>
<polygon points="887.06,299.55 898.36,294.87 903.92,313.22 891.93,315.61" fill="#bab48c"/>
<polygon points="898.36,294.87 909.65,290.20 915.91,310.84 903.92,313.22" fill="#f0eff5"/>
<polygon points="909.65,290.20 920.94,285.52 927.90,308.45 915.91,310.84" fill="#e3dad8"/>
<polygon points="831.98,327.53 843.97,325.15 844.67,332.30 832.45,332.30" fill="#e3dad8"/>
<polygon points="843.97,325.15 855.96,322.76 856.90,332.30 844.67,332.30" fill="#bab48c"/>
<polygon points="855.96,322.76 867.95,320.38 869.12,332.30 856.90,332.30" fill="#f0eff5"/>
<polygon points="867.95,320.38 879.94,317.99 881.35,332.30 869.12,332.30" fill="#d6c2a6"/>
<polygon points="879.94,317.99 891.93,315.61 893.58,332.30 881.35,332.30" fill="#90a87b"/>
<polygon points="891.93,315.61 903.92,313.22 905.80,332.30 893.58,332.30" fill="#66996f"/>
<polygon points="903.92,313.22 915.91,310.84 918.02,332.30 905.80,332.30" fill="#d6c2a6"/>
<polygon points="915.91,310.84 927.90,308.45 930.25,332.30 918.02,332.30" fill="#d6c2a6"/>
<polygon points="832.45,332.30 844.67,332.30 843.97,339.45 831.98,337.07" fill="#d6c2a6"/>
<polygon points="844.67,332.30 856.90,332.30 855.96,341.84 843.97,339.45" fill="#d6c2a6"/>
<polygon points="856.90,332.30 869.12,332.30 867.95,344.22 855.96,341.84" fill="#bab48c"/>
<polygon points="869.12,332.30 881.35,332.30 879.94,346.61 867.95,344.22" fill="#66996f"/>
<polygon points="893.58,332.30 905.80,332.30 903.92,351.38 891.93,348.99" fill="#66996f"/>
<polygon points="905.80,332.30 918.02,332.30 915.91,353.76 903.92,351.38" fill="#d6c2a6"/>
<polygon points="831.98,337.07 843.97,339.45 841.88,346.33 830.59,341.66" fill="#d6c2a6"/>
<polygon points="843.97,339.45 855.96,341.84 853.18,351.01 841.88,346.33" fill="#bab48c"/>
<polygon points="855.96,341.84 867.95,344.22 864.47,355.69 853.18,351.01" fill="#f0eff5"/>
<polygon points="867.95,344.22 879.94,346.61 875.77,360.37 864.47,355.69" fill="#66996f"/>
<polygon points="879.94,346.61 891.93,348.99 887.06,365.05 875.77,360.37" fill="#1b8070"/>
<polygon points="891.93,348.99 903.92,351.38 898.36,369.73 887.06,365.05" fill="#bab48c"/>
<polygon points="903.92,351.38 915.91,353.76 909.65,374.40 898.36,369.73" fill="#d6c2a6"/>
<polygon points="915.91,353.76 927.90,356.15 920.94,379.08 909.65,374.40" fill="#e3dad8"/>
<polygon points="927.90,356.15 939.89,358.53 932.24,383.76 920.94,379.08" fill="#d6c2a6"/>
<polygon points="841.88,346.33 853.18,351.01 848.66,359.47 838.49,352.68" fill="#e3dad8"/>
<polygon points="853.18,351.01 864.47,355.69 858.82,366.26 848.66,359.47" fill="#66996f"/>
<polygon points="864.47,355.69 875.77,360.37 868.99,373.05 858.82,366.26" fill="#e3dad8"/>
<polygon points="887.06,365.05 898.36,369.73 889.32,386.63 879.15,379.84" fill="#d6c2a6"/>
<polygon points="898.36,369.73 909.65,374.40 899.48,393.43 889.32,386.63" fill="#f0eff5"/>
<polygon points="909.65,374.40 920.94,379.08 909.65,400.22 899.48,393.43" fill="#e3dad8"/>
<polygon points="818.16,339.09 828.33,345.88 825.29,349.59 816.64,340.94" fill="#e3dad8"/>
<polygon points="828.33,345.88 838.49,352.68 833.93,358.23 825.29,349.59" fill="#e3dad8"/>
<polygon points="838.49,352.68 848.66,359.47 842.58,366.88 833.93,358.23" fill="#e3dad8"/>
<polygon points="848.66,359.47 858.82,366.26 851.22,375.52 842.58,366.88" fill="#e3dad8"/>
<polygon points="858.82,366.26 868.99,373.05 859.87,384.17 851.22,375.52" fill="#bab48c"/>
<polygon points="868.99,373.05 879.15,379.84 868.51,392.81 859.87,384.17" fill="#90a87b"/>
<polygon points="879.15,379.84 889.32,386.63 877.16,401.46 868.51,392.81" fill="#1b8070"/>
<polygon points="889.32,386.63 899.48,393.43 885.80,410.10 877.16,401.46" fill="#bab48c"/>
<polygon points="899.48,393.43 909.65,400.22 894.44,418.74 885.80,410.10" fill="#e3dad8"/>
<polygon points="909.65,400.22 919.81,407.01 903.09,427.39 894.44,418.74" fill="#bab48c"/>
<polygon points="919.81,407.01 929.98,413.80 911.73,436.03 903.09,427.39" fill="#e3dad8"/>
<polygon points="816.64,340.94 825.29,349.59 821.58,352.63 814.79,342.46" fill="#e3dad8"/>
<polygon points="825.29,349.59 833.93,358.23 828.38,362.79 821.58,352.63" fill="#d6c2a6"/>
<polygon points="833.93,358.23 842.58,366.88 835.17,372.96 828.38,362.79" fill="#f0eff5"/>
<polygon points="842.58,366.88 851.22,375.52 841.96,383.12 835.17,372.96" fill="#bab48c"/>
<polygon points="859.87,384.17 868.51,392.81 855.54,403.45 848.75,393.29" fill="#e3dad8"/>
<polygon points="868.51,392.81 877.16,401.46 862.33,413.62 855.54,403.45" fill="#3f8d6d"/>
<polygon points="877.16,401.46 885.80,410.10 869.13,423.78 862.33,413.62" fill="#90a87b"/>
<polygon points="885.80,410.10 894.44,418.74 875.92,433.95 869.13,423.78" fill="#d6c2a6"/>
<polygon points="894.44,418.74 903.09,427.39 882.71,444.11 875.92,433.95" fill="#d6c2a6"/>
<polygon points="903.09,427.39 911.73,436.03 889.50,454.28 882.71,444.11" fill="#d6c2a6"/>
<polygon points="911.73,436.03 920.38,444.68 896.29,464.44 889.50,454.28" fill="#e3dad8"/>
<polygon points="814.79,342.46 821.58,352.63 817.36,354.89 812.68,343.59" fill="#e3dad8"/>
<polygon points="821.58,352.63 828.38,362.79 822.03,366.18 817.36,354.89" fill="#d6c2a6"/>
<polygon points="828.38,362.79 835.17,372.96 826.71,377.48 822.03,366.18" fill="#bab48c"/>
<polygon points="835.17,372.96 841.96,383.12 831.39,388.77 826.71,377.48" fill="#f0eff5"/>
<polygon points="841.96,383.12 848.75,393.29 836.07,400.07 831.39,388.77" fill="#d6c2a6"/>
<polygon points="848.75,393.29 855.54,403.45 840.75,411.36 836.07,400.07" fill="#66996f"/>
<polygon points="855.54,403.45 862.33,413.62 845.43,422.66 840.75,411.36" fill="#1b8070"/>
<polygon points="862.33,413.62 869.13,423.78 850.10,433.95 845.43,422.66" fill="#66996f"/>
<polygon points="869.13,423.78 875.92,433.95 854.78,445.24 850.10,433.95" fill="#bab48c"/>
<polygon points="875.92,433.95 882.71,444.11 859.46,456.54 854.78,445.24" fill="#bab48c"/>
<polygon points="882.71,444.11 889.50,454.28 864.14,467.83 859.46,456.54" fill="#f0eff5"/>
<polygon points="889.50,454.28 896.29,464.44 868.82,479.13 864.14,467.83" fill="#bab48c"/>
<polygon points="896.29,464.44 903.09,474.61 873.50,490.42 868.82,479.13" fill="#e3dad8"/>
<polygon points="903.09,474.61 909.88,484.77 878.17,501.72 873.50,490.42" fill="#e3dad8"/>
<polygon points="822.03,366.18 826.71,377.48 817.54,380.26 815.15,368.27" fill="#bab48c"/>
<polygon points="826.71,377.48 831.39,388.77 819.92,392.25 817.54,380.26" fill="#d6c2a6"/>
<polygon points="831.39,388.77 836.07,400.07 822.31,404.24 819.92,392.25" fill="#90a87b"/>
<polygon points="836.07,400.07 840.75,411.36 824.69,416.23 822.31,404.24" fill="#bab48c"/>
<polygon points="840.75,411.36 845.43,422.66 827.08,428.22 824.69,416.23" fill="#e3dad8"/>
<polygon points="845.43,422.66 850.10,433.95 829.46,440.21 827.08,428.22" fill="#bab48c"/>
<polygon points="850.10,433.95 854.78,445.24 831.85,452.20 829.46,440.21" fill="#3f8d6d"/>
<polygon points="854.78,445.24 859.46,456.54 834.23,464.19 831.85,452.20" fill="#66996f"/>
<polygon points="859.46,456.54 864.14,467.83 836.62,476.18 834.23,464.19" fill="#90a87b"/>
<polygon points="864.14,467.83 868.82,479.13 839.00,488.17 836.62,476.18" fill="#bab48c"/>
<polygon points="868.82,479.13 873.50,490.42 841.39,500.16 839.00,488.17" fill="#f0eff5"/>
<polygon points="873.50,490.42 878.17,501.72 843.77,512.15 841.39,500.16" fill="#f0eff5"/>
<polygon points="878.17,501.72 882.85,513.01 846.16,524.14 843.77,512.15" fill="#d6c2a6"/>
<polygon points="815.15,368.27 817.54,380.26 808.00,381.20 808.00,368.98" fill="#e3dad8"/>
<polygon points="817.54,380.26 819.92,392.25 808.00,393.43 808.00,381.20" fill="#d6c2a6"/>
<polygon points="819.92,392.25 822.31,404.24 808.00,405.65 808.00,393.43" fill="#bab48c"/>
<polygon points="822.31,404.24 824.69,416.23 808.00,417.88 808.00,405.65" fill="#bab48c"/>
<polygon points="824.69,416.23 827.08,428.22 808.00,430.10 808.00,417.88" fill="#bab48c"/>
<polygon points="827.08,428.22 829.46,440.21 808.00,442.32 808.00,430.10" fill="#90a87b"/>
<polygon points="829.46,440.21 831.85,452.20 808.00,454.55 808.00,442.32" fill="#e3dad8"/>
<polygon points="831.85,452.20 834.23,464.19 808.00,466.77 808.00,454.55" fill="#1b8070"/>
<polygon points="834.23,464.19 836.62,476.18 808.00,479.00 808.00,466.77" fill="#90a87b"/>
<polygon points="836.62,476.18 839.00,488.17 808.00,491.23 808.00,479.00" fill="#90a87b"/>
<polygon points="839.00,488.17 841.39,500.16 808.00,503.45 808.00,491.23" fill="#bab48c"/>
<polygon points="841.39,500.16 843.77,512.15 808.00,515.67 808.00,503.45" fill="#bab48c"/>
<polygon points="843.77,512.15 846.16,524.14 808.00,527.90 808.00,515.67" fill="#d6c2a6"/>
<polygon points="846.16,524.14 848.54,536.13 808.00,540.12 808.00,527.90" fill="#e3dad8"/>
<polygon points="848.54,536.13 850.93,548.12 808.00,552.35 808.00,540.12" fill="#e3dad8"/>
<polygon points="808.00,344.53 808.00,356.75 803.23,356.28 805.62,344.29" fill="#66996f"/>
<polygon points="808.00,356.75 808.00,368.98 800.85,368.27 803.23,356.28" fill="#e3dad8"/>
<polygon points="808.00,368.98 808.00,381.20 798.46,380.26 800.85,368.27" fill="#d6c2a6"/>
<polygon points="808.00,381.20 808.00,393.43 796.08,392.25 798.46,380.26" fill="#bab48c"/>
<polygon points="808.00,393.43 808.00,405.65 793.69,404.24 796.08,392.25" fill="#90a87b"/>
<polygon points="808.00,405.65 808.00,417.88 791.31,416.23 793.69,404.24" fill="#90a87b"/>
<polygon points="808.00,417.88 808.00,430.10 788.92,428.22 791.31,416.23" fill="#d6c2a6"/>
<polygon points="808.00,430.10 808.00,442.32 786.54,440.21 788.92,428.22" fill="#90a87b"/>
<polygon points="808.00,442.32 808.00,454.55 784.15,452.20 786.54,440.21" fill="#90a87b"/>
<polygon points="808.00,454.55 808.00,466.77 781.77,464.19 784.15,452.20" fill="#90a87b"/>
<polygon points="808.00,466.77 808.00,479.00 779.38,476.18 781.77,464.19" fill="#bab48c"/>
<polygon points="808.00,479.00 808.00,491.23 777.00,488.17 779.38,476.18" fill="#d6c2a6"/>
<polygon points="808.00,491.23 808.00,503.45 774.61,500.16 777.00,488.17" fill="#bab48c"/>
<polygon points="808.00,503.45 808.00,515.67 772.23,512.15 774.61,500.16" fill="#bab48c"/>
<polygon points="808.00,515.67 808.00,527.90 769.84,524.14 772.23,512.15" fill="#66996f"/>
<polygon points="808.00,527.90 808.00,540.12 767.46,536.13 769.84,524.14" fill="#90a87b"/>
<polygon points="808.00,540.12 808.00,552.35 765.07,548.12 767.46,536.13" fill="#bab48c"/>
<polygon points="805.62,344.29 803.23,356.28 798.64,354.89 803.32,343.59" fill="#e3dad8"/>
<polygon points="803.23,356.28 800.85,368.27 793.97,366.18 798.64,354.89" fill="#e3dad8"/>
<polygon points="800.85,368.27 798.46,380.26 789.29,377.48 793.97,366.18" fill="#f0eff5"/>
<polygon points="798.46,380.26 796.08,392.25 784.61,388.77 789.29,377.48" fill="#66996f"/>
<polygon points="796.08,392.25 793.69,404.24 779.93,400.07 784.61,388.77" fill="#d6c2a6"/>
<polygon points="793.69,404.24 791.31,416.23 775.25,411.36 779.93,400.07" fill="#d6c2a6"/>
<polygon points="791.31,416.23 788.92,428.22 770.57,422.66 775.25,411.36" fill="#66996f"/>
<polygon points="788.92,428.22 786.54,440.21 765.90,433.95 770.57,422.66" fill="#e3dad8"/>
<polygon points="786.54,440.21 784.15,452.20 761.22,445.24 765.90,433.95" fill="#e3dad8"/>
<polygon points="784.15,452.20 781.77,464.19 756.54,456.54 761.22,445.24" fill="#d6c2a6"/>
<polygon points="781.77,464.19 779.38,476.18 751.86,467.83 756.54,456.54" fill="#90a87b"/>
<polygon points="779.38,476.18 777.00,488.17 747.18,479.13 751.86,467.83" fill="#d6c2a6"/>
<polygon points="777.00,488.17 774.61,500.16 742.50,490.42 747.18,479.13" fill="#66996f"/>
<polygon points="774.61,500.16 772.23,512.15 737.83,501.72 742.50,490.42" fill="#e3dad8"/>
<polygon points="772.23,512.15 769.84,524.14 733.15,513.01 737.83,501.72" fill="#e3dad8"/>
<polygon points="798.64,354.89 793.97,366.18 787.62,362.79 794.42,352.63" fill="#e3dad8"/>
<polygon points="793.97,366.18 789.29,377.48 780.83,372.96 787.62,362.79" fill="#d6c2a6"/>
<polygon points="789.29,377.48 784.61,388.77 774.04,383.12 780.83,372.96" fill="#d6c2a6"/>
<polygon points="784.61,388.77 779.93,400.07 767.25,393.29 774.04,383.12" fill="#f0eff5"/>
<polygon points="779.93,400.07 775.25,411.36 760.46,403.45 767.25,393.29" fill="#d6c2a6"/>
<polygon points="775.25,411.36 770.57,422.66 753.67,413.62 760.46,403.45" fill="#90a87b"/>
<polygon points="770.57,422.66 765.90,433.95 746.87,423.78 753.67,413.62" fill="#e3dad8"/>
<polygon points="765.90,433.95 761.22,445.24 740.08,433.95 746.87,423.78" fill="#bab48c"/>
<polygon points="761.22,445.24 756.54,456.54 733.29,444.11 740.08,433.95" fill="#e3dad8"/>
<polygon points="756.54,456.54 751.86,467.83 726.50,454.28 733.29,444.11" fill="#d6c2a6"/>
<polygon points="751.86,467.83 747.18,479.13 719.71,464.44 726.50,454.28" fill="#66996f"/>
<polygon points="801.21,342.46 794.42,352.63 790.71,349.59 799.36,340.94" fill="#e3dad8"/>
<polygon points="794.42,352.63 787.62,362.79 782.07,358.23 790.71,349.59" fill="#e3dad8"/>
<polygon points="787.62,362.79 780.83,372.96 773.42,366.88 782.07,358.23" fill="#d6c2a6"/>
<polygon points="780.83,372.96 774.04,383.12 764.78,375.52 773.42,366.88" fill="#66996f"/>
<polygon points="774.04,383.12 767.25,393.29 756.13,384.17 764.78,375.52" fill="#bab48c"/>
<polygon points="767.25,393.29 760.46,403.45 747.49,392.81 756.13,384.17" fill="#90a87b"/>
<polygon points="760.46,403.45 753.67,413.62 738.84,401.46 747.49,392.81" fill="#e3dad8"/>
<polygon points="753.67,413.62 746.87,423.78 730.20,410.10 738.84,401.46" fill="#f0eff5"/>
<polygon points="746.87,423.78 740.08,433.95 721.56,418.74 730.20,410.10" fill="#90a87b"/>
<polygon points="740.08,433.95 733.29,444.11 712.91,427.39 721.56,418.74" fill="#bab48c"/>
<polygon points="733.29,444.11 726.50,454.28 704.27,436.03 712.91,427.39" fill="#e3dad8"/>
<polygon points="719.71,464.44 712.91,474.61 686.98,453.32 695.62,444.68" fill="#e3dad8"/>
<polygon points="799.36,340.94 790.71,349.59 787.67,345.88 797.84,339.09" fill="#d6c2a6"/>
<polygon points="790.71,349.59 782.07,358.23 777.51,352.68 787.67,345.88" fill="#e3dad8"/>
<polygon points="782.07,358.23 773.42,366.88 767.34,359.47 777.51,352.68" fill="#d6c2a6"/>
<polygon points="773.42,366.88 764.78,375.52 757.18,366.26 767.34,359.47" fill="#d6c2a6"/>
<polygon points="764.78,375.52 756.13,384.17 747.01,373.05 757.18,366.26" fill="#bab48c"/>
<polygon points="756.13,384.17 747.49,392.81 736.85,379.84 747.01,373.05" fill="#d6c2a6"/>
<polygon points="747.49,392.81 738.84,401.46 726.68,386.63 736.85,379.84" fill="#d6c2a6"/>
<polygon points="738.84,401.46 730.20,410.10 716.52,393.43 726.68,386.63" fill="#e3dad8"/>
<polygon points="730.20,410.10 721.56,418.74 706.35,400.22 716.52,393.43" fill="#e3dad8"/>
<polygon points="712.91,427.39 704.27,436.03 686.02,413.80 696.19,407.01" fill="#e3dad8"/>
<polygon points="797.84,339.09 787.67,345.88 785.41,341.66 796.71,336.98" fill="#d6c2a6"/>
<polygon points="777.51,352.68 767.34,359.47 762.82,351.01 774.12,346.33" fill="#e3dad8"/>
<polygon points="767.34,359.47 757.18,366.26 751.53,355.69 762.82,351.01" fill="#d6c2a6"/>
<polygon points="757.18,366.26 747.01,373.05 740.23,360.37 751.53,355.69" fill="#e3dad8"/>
<polygon points="747.01,373.05 736.85,379.84 728.94,365.05 740.23,360.37" fill="#f0eff5"/>
<polygon points="736.85,379.84 726.68,386.63 717.64,369.73 728.94,365.05" fill="#d6c2a6"/>
<polygon points="726.68,386.63 716.52,393.43 706.35,374.40 717.64,369.73" fill="#d6c2a6"/>
<polygon points="716.52,393.43 706.35,400.22 695.06,379.08 706.35,374.40" fill="#e3dad8"/>
<polygon points="774.12,346.33 762.82,351.01 760.04,341.84 772.03,339.45" fill="#bab48c"/>
<polygon points="762.82,351.01 751.53,355.69 748.05,344.22 760.04,341.84" fill="#e3dad8"/>
<polygon points="751.53,355.69 740.23,360.37 736.06,346.61 748.05,344.22" fill="#bab48c"/>
<polygon points="740.23,360.37 728.94,365.05 724.07,348.99 736.06,346.61" fill="#f0eff5"/>
<polygon points="728.94,365.05 717.64,369.73 712.08,351.38 724.07,348.99" fill="#f0eff5"/>
<polygon points="717.64,369.73 706.35,374.40 700.09,353.76 712.08,351.38" fill="#e3dad8"/>
<polygon points="784.02,337.07 772.03,339.45 771.33,332.30 783.55,332.30" fill="#bab48c"/>
<polygon points="772.03,339.45 760.04,341.84 759.10,332.30 771.33,332.30" fill="#66996f"/>
<polygon points="760.04,341.84 748.05,344.22 746.88,332.30 759.10,332.30" fill="#e3dad8"/>
<polygon points="748.05,344.22 736.06,346.61 734.65,332.30 746.88,332.30" fill="#d6c2a6"/>
<polygon points="736.06,346.61 724.07,348.99 722.42,332.30 734.65,332.30" fill="#e3dad8"/>
<polygon points="700.09,353.76 688.10,356.15 685.75,332.30 697.98,332.30" fill="#e3dad8"/>
<polygon points="771.33,332.30 759.10,332.30 760.04,322.76 772.03,325.15" fill="#d6c2a6"/>
<polygon points="759.10,332.30 746.88,332.30 748.05,320.38 760.04,322.76" fill="#d6c2a6"/>
<polygon points="746.88,332.30 734.65,332.30 736.06,317.99 748.05,320.38" fill="#f0eff5"/>
<polygon points="734.65,332.30 722.42,332.30 724.07,315.61 736.06,317.99" fill="#e3dad8"/>
<polygon points="722.42,332.30 710.20,332.30 712.08,313.22 724.07,315.61" fill="#e3dad8"/>
<polygon points="710.20,332.30 697.98,332.30 700.09,310.84 712.08,313.22" fill="#e3dad8"/>
<polygon points="784.02,327.53 772.03,325.15 774.12,318.27 785.41,322.94" fill="#d6c2a6"/>
<polygon points="772.03,325.15 760.04,322.76 762.82,313.59 774.12,318.27" fill="#d6c2a6"/>
<polygon points="760.04,322.76 748.05,320.38 751.53,308.91 762.82,313.59" fill="#e3dad8"/>
<polygon points="748.05,320.38 736.06,317.99 740.23,304.23 751.53,308.91" fill="#e3dad8"/>
<polygon points="736.06,317.99 724.07,315.61 728.94,299.55 740.23,304.23" fill="#d6c2a6"/>
<polygon points="724.07,315.61 712.08,313.22 717.64,294.87 728.94,299.55" fill="#e3dad8"/>
<polygon points="785.41,322.94 774.12,318.27 777.51,311.92 787.67,318.72" fill="#d6c2a6"/>
<polygon points="774.12,318.27 762.82,313.59 767.34,305.13 777.51,311.92" fill="#bab48c"/>
<polygon points="762.82,313.59 751.53,308.91 757.18,298.34 767.34,305.13" fill="#e3dad8"/>
<polygon points="751.53,308.91 740.23,304.23 747.01,291.55 757.18,298.34" fill="#e3dad8"/>
<polygon points="740.23,304.23 728.94,299.55 736.85,284.76 747.01,291.55" fill="#f0eff5"/>
<polygon points="728.94,299.55 717.64,294.87 726.68,277.97 736.85,284.76" fill="#e3dad8"/>
<polygon points="787.67,318.72 777.51,311.92 782.07,306.37 790.71,315.01" fill="#e3dad8"/>
<polygon points="777.51,311.92 767.34,305.13 773.42,297.72 782.07,306.37" fill="#90a87b"/>
<polygon points="767.34,305.13 757.18,298.34 764.78,289.08 773.42,297.72" fill="#e3dad8"/>
<polygon points="757.18,298.34 747.01,291.55 756.13,280.43 764.78,289.08" fill="#e3dad8"/>
<polygon points="747.01,291.55 736.85,284.76 747.49,271.79 756.13,280.43" fill="#e3dad8"/>
<polygon points="736.85,284.76 726.68,277.97 738.84,263.14 747.49,271.79" fill="#d6c2a6"/>
<polygon points="726.68,277.97 716.52,271.17 730.20,254.50 738.84,263.14" fill="#e3dad8"/>
<polygon points="790.71,315.01 782.07,306.37 787.62,301.81 794.42,311.97" fill="#d6c2a6"/>
<polygon points="782.07,306.37 773.42,297.72 780.83,291.64 787.62,301.81" fill="#e3dad8"/>
<polygon points="773.42,297.72 764.78,289.08 774.04,281.48 780.83,291.64" fill="#90a87b"/>
<polygon points="764.78,289.08 756.13,280.43 767.25,271.31 774.04,281.48" fill="#d6c2a6"/>
<polygon points="756.13,280.43 747.49,271.79 760.46,261.15 767.25,271.31" fill="#e3dad8"/>
<polygon points="747.49,271.79 738.84,263.14 753.67,250.98 760.46,261.15" fill="#d6c2a6"/>
<polygon points="801.21,322.14 794.42,311.97 798.64,309.71 803.32,321.01" fill="#e3dad8"/>
<polygon points="794.42,311.97 787.62,301.81 793.97,298.42 798.64,309.71" fill="#e3dad8"/>
<polygon points="787.62,301.81 780.83,291.64 789.29,287.12 793.97,298.42" fill="#f0eff5"/>
<polygon points="780.83,291.64 774.04,281.48 784.61,275.83 789.29,287.12" fill="#66996f"/>
<polygon points="774.04,281.48 767.25,271.31 779.93,264.53 784.61,275.83" fill="#e3dad8"/>
<polygon points="767.25,271.31 760.46,261.15 775.25,253.24 779.93,264.53" fill="#bab48c"/>
<polygon points="760.46,261.15 753.67,250.98 770.57,241.94 775.25,253.24" fill="#e3dad8"/>
<polygon points="753.67,250.98 746.87,240.82 765.90,230.65 770.57,241.94" fill="#e3dad8"/>
<polygon points="746.87,240.82 740.08,230.65 761.22,219.36 765.90,230.65" fill="#e3dad8"/>
<polygon points="740.08,230.65 733.29,220.49 756.54,208.06 761.22,219.36" fill="#e3dad8"/>
<polygon points="803.32,321.01 798.64,309.71 803.23,308.32 805.62,320.31" fill="#e3dad8"/>
<polygon points="798.64,309.71 793.97,298.42 800.85,296.33 803.23,308.32" fill="#e3dad8"/>
<polygon points="793.97,298.42 789.29,287.12 798.46,284.34 800.85,296.33" fill="#bab48c"/>
<polygon points="789.29,287.12 784.61,275.83 796.08,272.35 798.46,284.34" fill="#bab48c"/>
<polygon points="784.61,275.83 779.93,264.53 793.69,260.36 796.08,272.35" fill="#d6c2a6"/>
<polygon points="779.93,264.53 775.25,253.24 791.31,248.37 793.69,260.36" fill="#bab48c"/>
<polygon points="775.25,253.24 770.57,241.94 788.92,236.38 791.31,248.37" fill="#f0eff5"/>
<polygon points="770.57,241.94 765.90,230.65 786.54,224.39 788.92,236.38" fill="#d6c2a6"/>
<polygon points="765.90,230.65 761.22,219.36 784.15,212.40 786.54,224.39" fill="#f0eff5"/>
<polygon points="761.22,219.36 756.54,208.06 781.77,200.41 784.15,212.40" fill="#d6c2a6"/>
<polygon points="803.23,308.32 800.85,296.33 808.00,295.62 808.00,307.85" fill="#e3dad8"/>
<polygon points="800.85,296.33 798.46,284.34 808.00,283.40 808.00,295.62" fill="#d6c2a6"/>
<polygon points="798.46,284.34 796.08,272.35 808.00,271.18 808.00,283.40" fill="#3f8d6d"/>
<polygon points="796.08,272.35 793.69,260.36 808.00,258.95 808.00,271.18" fill="#90a87b"/>
<polygon points="793.69,260.36 791.31,248.37 808.00,246.73 808.00,258.95" fill="#d6c2a6"/>
<polygon points="791.31,248.37 788.92,236.38 808.00,234.50 808.00,246.73" fill="#90a87b"/>
<polygon points="788.92,236.38 786.54,224.39 808.00,222.28 808.00,234.50" fill="#e3dad8"/>
<polygon points="786.54,224.39 784.15,212.40 808.00,210.05 808.00,222.28" fill="#bab48c"/>
<polygon points="784.15,212.40 781.77,200.41 808.00,197.83 808.00,210.05" fill="#d6c2a6"/>
<polygon points="777.00,176.43 774.61,164.44 808.00,161.15 808.00,173.38" fill="#d6c2a6"/></g>
<circle cx="808.00" cy="332.30" r="39.12" fill="none" stroke="#b0b0b0" stroke-width="1.25"/>
<circle cx="808.00" cy="332.30" r="78.24" fill="none" stroke="#b0b0b0" stroke-width="1.25"/>
<circle cx="808.00" cy="332.30" r="117.36" fill="none" stroke="#b0b0b0" stroke-width="1.25"/>
<circle cx="808.00" cy="332.30" r="156.48" fill="none" stroke="#b0b0b0" stroke-width="1.25"/>
<circle cx="808.00" cy="332.30" r="195.60" fill="none" stroke="#b0b0b0" stroke-width="1.25"/>
<line x1="808.50" y1="332.30" x2="808.50" y2="98.30" stroke="#b0b0b0" stroke-width="1.25"/>
<line x1="808.00" y1="332.30" x2="973.46" y2="166.84" stroke="#b0b0b0" stroke-width="1.25"/>
<line x1="808.00" y1="332.50" x2="1042.00" y2="332.50" stroke="#b0b0b0" stroke-width="1.25"/>
<line x1="808.00" y1="332.30" x2="973.46" y2="497.76" stroke="#b0b0b0" stroke-width="1.25"/>
<line x1="808.50" y1="332.30" x2="808.50" y2="566.30" stroke="#b0b0b0" stroke-width="1.25"/>
<line x1="808.00" y1="332.30" x2="642.54" y2="497.76" stroke="#b0b0b0" stroke-width="1.25"/>
<line x1="808.00" y1="332.50" x2="574.00" y2="332.50" stroke="#b0b0b0" stroke-width="1.25"/>
<line x1="808.00" y1="332.30" x2="642.54" y2="166.84" stroke="#b0b0b0" stroke-width="1.25"/>
<circle cx="808.00" cy="332.30" r="234.00" fill="none" stroke="#000" stroke-width="1.3"/>
<text x="808.0" y="83.7" font-size="19.0" text-anchor="middle">N</text>
<text x="808.0" y="591.0" font-size="19.0" text-anchor="middle">S</text>
<text x="555.1" y="337.9" font-size="19.0" text-anchor="middle">W</text>
<text x="1062.5" y="337.9" font-size="19.0" text-anchor="middle">E</text>
<text x="859.0" y="312.8" font-size="19.0" text-anchor="middle" textLength="27.5" lengthAdjust="spacingAndGlyphs">0.2</text>
<text x="895.7" y="298.0" font-size="19.0" text-anchor="middle" textLength="27.5" lengthAdjust="spacingAndGlyphs">0.4</text>
<text x="931.6" y="282.8" font-size="19.0" text-anchor="middle" textLength="27.5" lengthAdjust="spacingAndGlyphs">0.6</text>
<text x="967.5" y="267.7" font-size="19.0" text-anchor="middle" textLength="27.5" lengthAdjust="spacingAndGlyphs">0.8</text>
<text x="1004.4" y="253.1" font-size="19.0" text-anchor="middle" textLength="27.5" lengthAdjust="spacingAndGlyphs">1.0</text>
<text x="808.0" y="60.9" font-size="25.0" text-anchor="middle" textLength="96.0" lengthAdjust="spacingAndGlyphs">NWGOA</text>
<circle cx="1341.90" cy="332.30" r="234.00" fill="#edecf3"/>
<g shape-rendering="crispEdges"><polygon points="1341.90,332.30 1341.90,320.07 1344.28,320.31 1341.90,332.30" fill="#f0eff5"/>
<polygon points="1341.90,320.07 1341.90,307.85 1346.67,308.32 1344.28,320.31" fill="#e3dad8"/>
<polygon points="1341.90,307.85 1341.90,295.62 1349.05,296.33 1346.67,308.32" fill="#66996f"/>
<polygon points="1341.90,295.62 1341.90,283.40 1351.44,284.34 1349.05,296.33" fill="#90a87b"/>
<polygon points="1341.90,271.18 1341.90,258.95 1356.21,260.36 1353.82,272.35" fill="#66996f"/>
<polygon points="1341.90,258.95 1341.90,246.73 1358.59,248.37 1356.21,260.36" fill="#1b8070"/>
<polygon points="1341.90,332.30 1344.28,320.31 1346.58,321.01 1341.90,332.30" fill="#f0eff5"/>
<polygon points="1344.28,320.31 1346.67,308.32 1351.26,309.71 1346.58,321.01" fill="#e3dad8"/>
<polygon points="1346.67,308.32 1349.05,296.33 1355.93,298.42 1351.26,309.71" fill="#242f48"/>
<polygon points="1349.05,296.33 1351.44,284.34 1360.61,287.12 1355.93,298.42" fill="#1b8070"/>
<polygon points="1351.44,284.34 1353.82,272.35 1365.29,275.83 1360.61,287.12" fill="#90a87b"/>
<polygon points="1353.82,272.35 1356.21,260.36 1369.97,264.53 1365.29,275.83" fill="#1f4658"/>
<polygon points="1356.21,260.36 1358.59,248.37 1374.65,253.24 1369.97,264.53" fill="#90a87b"/>
<polygon points="1358.59,248.37 1360.98,236.38 1379.33,241.94 1374.65,253.24" fill="#d6c2a6"/>
<polygon points="1341.90,332.30 1346.58,321.01 1348.69,322.14 1341.90,332.30" fill="#f0eff5"/>
<polygon points="1346.58,321.01 1351.26,309.71 1355.48,311.97 1348.69,322.14" fill="#d6c2a6"/>
<polygon points="1351.26,309.71 1355.93,298.42 1362.28,301.81 1355.48,311.97" fill="#90a87b"/>
<polygon points="1355.93,298.42 1360.61,287.12 1369.07,291.64 1362.28,301.81" fill="#90a87b"/>
<polygon points="1360.61,287.12 1365.29,275.83 1375.86,281.48 1369.07,291.64" fill="#3f8d6d"/>
<polygon points="1365.29,275.83 1369.97,264.53 1382.65,271.31 1375.86,281.48" fill="#bab48c"/>
<polygon points="1369.97,264.53 1374.65,253.24 1389.44,261.15 1382.65,271.31" fill="#d6c2a6"/>
<polygon points="1341.90,332.30 1348.69,322.14 1350.54,323.66 1341.90,332.30" fill="#e3dad8"/>
<polygon points="1348.69,322.14 1355.48,311.97 1359.19,315.01 1350.54,323.66" fill="#e3dad8"/>
<polygon points="1355.48,311.97 1362.28,301.81 1367.83,306.37 1359.19,315.01" fill="#90a87b"/>
<polygon points="1362.28,301.81 1369.07,291.64 1376.48,297.72 1367.83,306.37" fill="#66996f"/>
<polygon points="1369.07,291.64 1375.86,281.48 1385.12,289.08 1376.48,297.72" fill="#3f8d6d"/>
<polygon points="1382.65,271.31 1389.44,261.15 1402.41,271.79 1393.77,280.43" fill="#e3dad8"/>
<polygon points="1341.90,332.30 1350.54,323.66 1352.06,325.51 1341.90,332.30" fill="#d6c2a6"/>
<polygon points="1350.54,323.66 1359.19,315.01 1362.23,318.72 1352.06,325.51" fill="#f0eff5"/>
<polygon points="1359.19,315.01 1367.83,306.37 1372.39,311.92 1362.23,318.72" fill="#e3dad8"/>
<polygon points="1367.83,306.37 1376.48,297.72 1382.56,305.13 1372.39,311.92" fill="#bab48c"/>
<polygon points="1376.48,297.72 1385.12,289.08 1392.72,298.34 1382.56,305.13" fill="#e3dad8"/>
<polygon points="1385.12,289.08 1393.77,280.43 1402.89,291.55 1392.72,298.34" fill="#f0eff5"/>
<polygon points="1393.77,280.43 1402.41,271.79 1413.05,284.76 1402.89,291.55" fill="#e3dad8"/>
<polygon points="1402.41,271.79 1411.06,263.14 1423.22,277.97 1413.05,284.76" fill="#e3dad8"/>
<polygon points="1341.90,332.30 1352.06,325.51 1353.19,327.62 1341.90,332.30" fill="#e3dad8"/>
<polygon points="1352.06,325.51 1362.23,318.72 1364.49,322.94 1353.19,327.62" fill="#f0eff5"/>
<polygon points="1362.23,318.72 1372.39,311.92 1375.78,318.27 1364.49,322.94" fill="#e3dad8"/>
<polygon points="1372.39,311.92 1382.56,305.13 1387.08,313.59 1375.78,318.27" fill="#e3dad8"/>
<polygon points="1392.72,298.34 1402.89,291.55 1409.67,304.23 1398.37,308.91" fill="#e3dad8"/>
<polygon points="1341.90,332.30 1353.19,327.62 1353.89,329.92 1341.90,332.30" fill="#e3dad8"/>
<polygon points="1353.19,327.62 1364.49,322.94 1365.88,327.53 1353.89,329.92" fill="#f0eff5"/>
<polygon points="1364.49,322.94 1375.78,318.27 1377.87,325.15 1365.88,327.53" fill="#d6c2a6"/>
<polygon points="1398.37,308.91 1409.67,304.23 1413.84,317.99 1401.85,320.38" fill="#e3dad8"/>
<polygon points="1341.90,332.30 1353.89,329.92 1354.12,332.30 1341.90,332.30" fill="#f0eff5"/>
<polygon points="1353.89,329.92 1365.88,327.53 1366.35,332.30 1354.12,332.30" fill="#e3dad8"/>
<polygon points="1365.88,327.53 1377.87,325.15 1378.58,332.30 1366.35,332.30" fill="#d6c2a6"/>
<polygon points="1389.86,322.76 1401.85,320.38 1403.03,332.30 1390.80,332.30" fill="#e3dad8"/>
<polygon points="1341.90,332.30 1354.12,332.30 1353.89,334.68 1341.90,332.30" fill="#f0eff5"/>
<polygon points="1354.12,332.30 1366.35,332.30 1365.88,337.07 1353.89,334.68" fill="#f0eff5"/>
<polygon points="1366.35,332.30 1378.58,332.30 1377.87,339.45 1365.88,337.07" fill="#d6c2a6"/>
<polygon points="1378.58,332.30 1390.80,332.30 1389.86,341.84 1377.87,339.45" fill="#d6c2a6"/>
<polygon points="1390.80,332.30 1403.03,332.30 1401.85,344.22 1389.86,341.84" fill="#e3dad8"/>
<polygon points="1341.90,332.30 1353.89,334.68 1353.19,336.98 1341.90,332.30" fill="#e3dad8"/>
<polygon points="1353.89,334.68 1365.88,337.07 1364.49,341.66 1353.19,336.98" fill="#90a87b"/>
<polygon points="1365.88,337.07 1377.87,339.45 1375.78,346.33 1364.49,341.66" fill="#bab48c"/>
<polygon points="1377.87,339.45 1389.86,341.84 1387.08,351.01 1375.78,346.33" fill="#d6c2a6"/>
<polygon points="1389.86,341.84 1401.85,344.22 1398.37,355.69 1387.08,351.01" fill="#e3dad8"/>
<polygon points="1341.90,332.30 1353.19,336.98 1352.06,339.09 1341.90,332.30" fill="#e3dad8"/>
<polygon points="1353.19,336.98 1364.49,341.66 1362.23,345.88 1352.06,339.09" fill="#d6c2a6"/>
<polygon points="1364.49,341.66 1375.78,346.33 1372.39,352.68 1362.23,345.88" fill="#d6c2a6"/>
<polygon points="1375.78,346.33 1387.08,351.01 1382.56,359.47 1372.39,352.68" fill="#e3dad8"/>
<polygon points="1341.90,332.30 1352.06,339.09 1350.54,340.94 1341.90,332.30" fill="#e3dad8"/>
<polygon points="1352.06,339.09 1362.23,345.88 1359.19,349.59 1350.54,340.94" fill="#e3dad8"/>
<polygon points="1362.23,345.88 1372.39,352.68 1367.83,358.23 1359.19,349.59" fill="#d6c2a6"/>
<polygon points="1372.39,352.68 1382.56,359.47 1376.48,366.88 1367.83,358.23" fill="#e3dad8"/>
<polygon points="1341.90,332.30 1350.54,340.94 1348.69,342.46 1341.90,332.30" fill="#f0eff5"/>
<polygon points="1350.54,340.94 1359.19,349.59 1355.48,352.63 1348.69,342.46" fill="#e3dad8"/>
<polygon points="1359.19,349.59 1367.83,358.23 1362.28,362.79 1355.48,352.63" fill="#bab48c"/>
<polygon points="1367.83,358.23 1376.48,366.88 1369.07,372.96 1362.28,362.79" fill="#90a87b"/>
<polygon points="1385.12,375.52 1393.77,384.17 1382.65,393.29 1375.86,383.12" fill="#e3dad8"/>
<polygon points="1341.90,332.30 1348.69,342.46 1346.58,343.59 1341.90,332.30" fill="#f0eff5"/>
<polygon points="1348.69,342.46 1355.48,352.63 1351.26,354.89 1346.58,343.59" fill="#d6c2a6"/>
<polygon points="1355.48,352.63 1362.28,362.79 1355.93,366.18 1351.26,354.89" fill="#90a87b"/>
<polygon points="1362.28,362.79 1369.07,372.96 1360.61,377.48 1355.93,366.18" fill="#e3dad8"/>
<polygon points="1375.86,383.12 1382.65,393.29 1369.97,400.07 1365.29,388.77" fill="#e3dad8"/>
<polygon points="1341.90,332.30 1346.58,343.59 1344.28,344.29 1341.90,332.30" fill="#f0eff5"/>
<polygon points="1346.58,343.59 1351.26,354.89 1346.67,356.28 1344.28,344.29" fill="#e3dad8"/>
<polygon points="1351.26,354.89 1355.93,366.18 1349.05,368.27 1346.67,356.28" fill="#66996f"/>
<polygon points="1355.93,366.18 1360.61,377.48 1351.44,380.26 1349.05,368.27" fill="#bab48c"/>
<polygon points="1360.61,377.48 1365.29,388.77 1353.82,392.25 1351.44,380.26" fill="#d6c2a6"/>
<polygon points="1365.29,388.77 1369.97,400.07 1356.21,404.24 1353.82,392.25" fill="#bab48c"/>
<polygon points="1374.65,411.36 1379.33,422.66 1360.98,428.22 1358.59,416.23" fill="#e3dad8"/>
<polygon points="1341.90,332.30 1344.28,344.29 1341.90,344.53 1341.90,332.30" fill="#e3dad8"/>
<polygon points="1344.28,344.29 1346.67,356.28 1341.90,356.75 1341.90,344.53" fill="#d6c2a6"/>
<polygon points="1346.67,356.28 1349.05,368.27 1341.90,368.98 1341.90,356.75" fill="#d6c2a6"/>
<polygon points="1349.05,368.27 1351.44,380.26 1341.90,381.20 1341.90,368.98" fill="#bab48c"/>
<polygon points="1351.44,380.26 1353.82,392.25 1341.90,393.43 1341.90,381.20" fill="#66996f"/>
<polygon points="1353.82,392.25 1356.21,404.24 1341.90,405.65 1341.90,393.43" fill="#66996f"/>
<polygon points="1356.21,404.24 1358.59,416.23 1341.90,417.88 1341.90,405.65" fill="#d6c2a6"/>
<polygon points="1363.36,440.21 1365.75,452.20 1341.90,454.55 1341.90,442.32" fill="#e3dad8"/>
<polygon points="1341.90,332.30 1341.90,344.53 1339.52,344.29 1341.90,332.30" fill="#e3dad8"/>
<polygon points="1341.90,344.53 1341.90,356.75 1337.13,356.28 1339.52,344.29" fill="#66996f"/>
<polygon points="1341.90,356.75 1341.90,368.98 1334.75,368.27 1337.13,356.28" fill="#66996f"/>
<polygon points="1341.90,368.98 1341.90,381.20 1332.36,380.26 1334.75,368.27" fill="#66996f"/>
<polygon points="1341.90,381.20 1341.90,393.43 1329.98,392.25 1332.36,380.26" fill="#e3dad8"/>
<polygon points="1341.90,393.43 1341.90,405.65 1327.59,404.24 1329.98,392.25" fill="#e3dad8"/>
<polygon points="1341.90,405.65 1341.90,417.88 1325.21,416.23 1327.59,404.24" fill="#d6c2a6"/>
<polygon points="1341.90,417.88 1341.90,430.10 1322.82,428.22 1325.21,416.23" fill="#d6c2a6"/>
<polygon points="1341.90,430.10 1341.90,442.32 1320.44,440.21 1322.82,428.22" fill="#e3dad8"/>
<polygon points="1341.90,442.32 1341.90,454.55 1318.05,452.20 1320.44,440.21" fill="#e3dad8"/>
<polygon points="1341.90,454.55 1341.90,466.77 1315.67,464.19 1318.05,452.20" fill="#e3dad8"/>
<polygon points="1341.90,332.30 1339.52,344.29 1337.22,343.59 1341.90,332.30" fill="#e3dad8"/>
<polygon points="1339.52,344.29 1337.13,356.28 1332.54,354.89 1337.22,343.59" fill="#e3dad8"/>
<polygon points="1337.13,356.28 1334.75,368.27 1327.87,366.18 1332.54,354.89" fill="#66996f"/>
<polygon points="1334.75,368.27 1332.36,380.26 1323.19,377.48 1327.87,366.18" fill="#90a87b"/>
<polygon points="1332.36,380.26 1329.98,392.25 1318.51,388.77 1323.19,377.48" fill="#3f8d6d"/>
<polygon points="1329.98,392.25 1327.59,404.24 1313.83,400.07 1318.51,388.77" fill="#66996f"/>
<polygon points="1327.59,404.24 1325.21,416.23 1309.15,411.36 1313.83,400.07" fill="#d6c2a6"/>
<polygon points="1325.21,416.23 1322.82,428.22 1304.47,422.66 1309.15,411.36" fill="#e3dad8"/>
<polygon points="1322.82,428.22 1320.44,440.21 1299.80,433.95 1304.47,422.66" fill="#e3dad8"/>
<polygon points="1320.44,440.21 1318.05,452.20 1295.12,445.24 1299.80,433.95" fill="#f0eff5"/>
<polygon points="1318.05,452.20 1315.67,464.19 1290.44,456.54 1295.12,445.24" fill="#e3dad8"/>
<polygon points="1315.67,464.19 1313.28,476.18 1285.76,467.83 1290.44,456.54" fill="#d6c2a6"/>
<polygon points="1341.90,332.30 1337.22,343.59 1335.11,342.46 1341.90,332.30" fill="#e3dad8"/>
<polygon points="1337.22,343.59 1332.54,354.89 1328.32,352.63 1335.11,342.46" fill="#d6c2a6"/>
<polygon points="1332.54,354.89 1327.87,366.18 1321.52,362.79 1328.32,352.63" fill="#66996f"/>
<polygon points="1327.87,366.18 1323.19,377.48 1314.73,372.96 1321.52,362.79" fill="#90a87b"/>
<polygon points="1323.19,377.48 1318.51,388.77 1307.94,383.12 1314.73,372.96" fill="#115a67"/>
<polygon points="1318.51,388.77 1313.83,400.07 1301.15,393.29 1307.94,383.12" fill="#90a87b"/>
<polygon points="1313.83,400.07 1309.15,411.36 1294.36,403.45 1301.15,393.29" fill="#90a87b"/>
<polygon points="1309.15,411.36 1304.47,422.66 1287.57,413.62 1294.36,403.45" fill="#d6c2a6"/>
<polygon points="1304.47,422.66 1299.80,433.95 1280.77,423.78 1287.57,413.62" fill="#e3dad8"/>
<polygon points="1299.80,433.95 1295.12,445.24 1273.98,433.95 1280.77,423.78" fill="#e3dad8"/>
<polygon points="1290.44,456.54 1285.76,467.83 1260.40,454.28 1267.19,444.11" fill="#e3dad8"/>
<polygon points="1341.90,332.30 1335.11,342.46 1333.26,340.94 1341.90,332.30" fill="#e3dad8"/>
<polygon points="1335.11,342.46 1328.32,352.63 1324.61,349.59 1333.26,340.94" fill="#90a87b"/>
<polygon points="1328.32,352.63 1321.52,362.79 1315.97,358.23 1324.61,349.59" fill="#d6c2a6"/>
<polygon points="1321.52,362.79 1314.73,372.96 1307.32,366.88 1315.97,358.23" fill="#66996f"/>
<polygon points="1314.73,372.96 1307.94,383.12 1298.68,375.52 1307.32,366.88" fill="#90a87b"/>
<polygon points="1307.94,383.12 1301.15,393.29 1290.03,384.17 1298.68,375.52" fill="#bab48c"/>
<polygon points="1301.15,393.29 1294.36,403.45 1281.39,392.81 1290.03,384.17" fill="#90a87b"/>
<polygon points="1294.36,403.45 1287.57,413.62 1272.74,401.46 1281.39,392.81" fill="#f0eff5"/>
<polygon points="1287.57,413.62 1280.77,423.78 1264.10,410.10 1272.74,401.46" fill="#e3dad8"/>
<polygon points="1280.77,423.78 1273.98,433.95 1255.46,418.74 1264.10,410.10" fill="#e3dad8"/>
<polygon points="1341.90,332.30 1333.26,340.94 1331.74,339.09 1341.90,332.30" fill="#e3dad8"/>
<polygon points="1333.26,340.94 1324.61,349.59 1321.57,345.88 1331.74,339.09" fill="#66996f"/>
<polygon points="1324.61,349.59 1315.97,358.23 1311.41,352.68 1321.57,345.88" fill="#1b8070"/>
<polygon points="1315.97,358.23 1307.32,366.88 1301.24,359.47 1311.41,352.68" fill="#1f4658"/>
<polygon points="1307.32,366.88 1298.68,375.52 1291.08,366.26 1301.24,359.47" fill="#90a87b"/>
<polygon points="1298.68,375.52 1290.03,384.17 1280.91,373.05 1291.08,366.26" fill="#3f8d6d"/>
<polygon points="1290.03,384.17 1281.39,392.81 1270.75,379.84 1280.91,373.05" fill="#90a87b"/>
<polygon points="1281.39,392.81 1272.74,401.46 1260.58,386.63 1270.75,379.84" fill="#e3dad8"/>
<polygon points="1272.74,401.46 1264.10,410.10 1250.42,393.43 1260.58,386.63" fill="#e3dad8"/>
<polygon points="1341.90,332.30 1331.74,339.09 1330.61,336.98 1341.90,332.30" fill="#d6c2a6"/>
<polygon points="1331.74,339.09 1321.57,345.88 1319.31,341.66 1330.61,336.98" fill="#66996f"/>
<polygon points="1321.57,345.88 1311.41,352.68 1308.02,346.33 1319.31,341.66" fill="#66996f"/>
<polygon points="1311.41,352.68 1301.24,359.47 1296.72,351.01 1308.02,346.33" fill="#1b8070"/>
<polygon points="1301.24,359.47 1291.08,366.26 1285.43,355.69 1296.72,351.01" fill="#d6c2a6"/>
<polygon points="1291.08,366.26 1280.91,373.05 1274.13,360.37 1285.43,355.69" fill="#d6c2a6"/>
<polygon points="1280.91,373.05 1270.75,379.84 1262.84,365.05 1274.13,360.37" fill="#d6c2a6"/>
<polygon points="1270.75,379.84 1260.58,386.63 1251.54,369.73 1262.84,365.05" fill="#d6c2a6"/>
<polygon points="1260.58,386.63 1250.42,393.43 1240.25,374.40 1251.54,369.73" fill="#e3dad8"/>
<polygon points="1341.90,332.30 1330.61,336.98 1329.91,334.68 1341.90,332.30" fill="#f0eff5"/>
<polygon points="1330.61,336.98 1319.31,341.66 1317.92,337.07 1329.91,334.68" fill="#f0eff5"/>
<polygon points="1319.31,341.66 1308.02,346.33 1305.93,339.45 1317.92,337.07" fill="#3f8d6d"/>
<polygon points="1308.02,346.33 1296.72,351.01 1293.94,341.84 1305.93,339.45" fill="#66996f"/>
<polygon points="1296.72,351.01 1285.43,355.69 1281.95,344.22 1293.94,341.84" fill="#bab48c"/>
<polygon points="1285.43,355.69 1274.13,360.37 1269.96,346.61 1281.95,344.22" fill="#d6c2a6"/>
<polygon points="1274.13,360.37 1262.84,365.05 1257.97,348.99 1269.96,346.61" fill="#f0eff5"/>
<polygon points="1262.84,365.05 1251.54,369.73 1245.98,351.38 1257.97,348.99" fill="#d6c2a6"/>
<polygon points="1251.54,369.73 1240.25,374.40 1233.99,353.76 1245.98,351.38" fill="#f0eff5"/>
<polygon points="1240.25,374.40 1228.96,379.08 1222.00,356.15 1233.99,353.76" fill="#e3dad8"/>
<polygon points="1341.90,332.30 1329.91,334.68 1329.68,332.30 1341.90,332.30" fill="#e3dad8"/>
<polygon points="1329.91,334.68 1317.92,337.07 1317.45,332.30 1329.68,332.30" fill="#90a87b"/>
<polygon points="1317.92,337.07 1305.93,339.45 1305.23,332.30 1317.45,332.30" fill="#66996f"/>
<polygon points="1305.93,339.45 1293.94,341.84 1293.00,332.30 1305.23,332.30" fill="#3f8d6d"/>
<polygon points="1293.94,341.84 1281.95,344.22 1280.78,332.30 1293.00,332.30" fill="#d6c2a6"/>
<polygon points="1281.95,344.22 1269.96,346.61 1268.55,332.30 1280.78,332.30" fill="#d6c2a6"/>
<polygon points="1269.96,346.61 1257.97,348.99 1256.33,332.30 1268.55,332.30" fill="#f0eff5"/>
<polygon points="1257.97,348.99 1245.98,351.38 1244.10,332.30 1256.33,332.30" fill="#e3dad8"/>
<polygon points="1245.98,351.38 1233.99,353.76 1231.88,332.30 1244.10,332.30" fill="#e3dad8"/>
<polygon points="1233.99,353.76 1222.00,356.15 1219.65,332.30 1231.88,332.30" fill="#f0eff5"/>
<polygon points="1341.90,332.30 1329.68,332.30 1329.91,329.92 1341.90,332.30" fill="#d6c2a6"/>
<polygon points="1329.68,332.30 1317.45,332.30 1317.92,327.53 1329.91,329.92" fill="#bab48c"/>
<polygon points="1317.45,332.30 1305.23,332.30 1305.93,325.15 1317.92,327.53" fill="#66996f"/>
<polygon points="1305.23,332.30 1293.00,332.30 1293.94,322.76 1305.93,325.15" fill="#1f4658"/>
<polygon points="1293.00,332.30 1280.78,332.30 1281.95,320.38 1293.94,322.76" fill="#66996f"/>
<polygon points="1280.78,332.30 1268.55,332.30 1269.96,317.99 1281.95,320.38" fill="#e3dad8"/>
<polygon points="1268.55,332.30 1256.33,332.30 1257.97,315.61 1269.96,317.99" fill="#e3dad8"/>
<polygon points="1256.33,332.30 1244.10,332.30 1245.98,313.22 1257.97,315.61" fill="#e3dad8"/>
<polygon points="1244.10,332.30 1231.88,332.30 1233.99,310.84 1245.98,313.22" fill="#d6c2a6"/>
<polygon points="1231.88,332.30 1219.65,332.30 1222.00,308.45 1233.99,310.84" fill="#d6c2a6"/>
<polygon points="1341.90,332.30 1329.91,329.92 1330.61,327.62 1341.90,332.30" fill="#d6c2a6"/>
<polygon points="1329.91,329.92 1317.92,327.53 1319.31,322.94 1330.61,327.62" fill="#bab48c"/>
<polygon points="1317.92,327.53 1305.93,325.15 1308.02,318.27 1319.31,322.94" fill="#66996f"/>
<polygon points="1305.93,325.15 1293.94,322.76 1296.72,313.59 1308.02,318.27" fill="#3f8d6d"/>
<polygon points="1293.94,322.76 1281.95,320.38 1285.43,308.91 1296.72,313.59" fill="#90a87b"/>
<polygon points="1281.95,320.38 1269.96,317.99 1274.13,304.23 1285.43,308.91" fill="#d6c2a6"/>
<polygon points="1269.96,317.99 1257.97,315.61 1262.84,299.55 1274.13,304.23" fill="#d6c2a6"/>
<polygon points="1257.97,315.61 1245.98,313.22 1251.54,294.87 1262.84,299.55" fill="#d6c2a6"/>
<polygon points="1245.98,313.22 1233.99,310.84 1240.25,290.20 1251.54,294.87" fill="#d6c2a6"/>
<polygon points="1341.90,332.30 1330.61,327.62 1331.74,325.51 1341.90,332.30" fill="#e3dad8"/>
<polygon points="1330.61,327.62 1319.31,322.94 1321.57,318.72 1331.74,325.51" fill="#90a87b"/>
<polygon points="1319.31,322.94 1308.02,318.27 1311.41,311.92 1321.57,318.72" fill="#d6c2a6"/>
<polygon points="1308.02,318.27 1296.72,313.59 1301.24,305.13 1311.41,311.92" fill="#3f8d6d"/>
<polygon points="1296.72,313.59 1285.43,308.91 1291.08,298.34 1301.24,305.13" fill="#1b8070"/>
<polygon points="1285.43,308.91 1274.13,304.23 1280.91,291.55 1291.08,298.34" fill="#242f48"/>
<polygon points="1274.13,304.23 1262.84,299.55 1270.75,284.76 1280.91,291.55" fill="#d6c2a6"/>
<polygon points="1262.84,299.55 1251.54,294.87 1260.58,277.97 1270.75,284.76" fill="#66996f"/>
<polygon points="1251.54,294.87 1240.25,290.20 1250.42,271.17 1260.58,277.97" fill="#e3dad8"/>
<polygon points="1228.96,285.52 1217.66,280.84 1230.09,257.59 1240.25,264.38" fill="#e3dad8"/>
<polygon points="1341.90,332.30 1331.74,325.51 1333.26,323.66 1341.90,332.30" fill="#d6c2a6"/>
<polygon points="1331.74,325.51 1321.57,318.72 1324.61,315.01 1333.26,323.66" fill="#90a87b"/>
<polygon points="1321.57,318.72 1311.41,311.92 1315.97,306.37 1324.61,315.01" fill="#231a38"/>
<polygon points="1311.41,311.92 1301.24,305.13 1307.32,297.72 1315.97,306.37" fill="#231a38"/>
<polygon points="1301.24,305.13 1291.08,298.34 1298.68,289.08 1307.32,297.72" fill="#076e6c"/>
<polygon points="1291.08,298.34 1280.91,291.55 1290.03,280.43 1298.68,289.08" fill="#1f4658"/>
<polygon points="1280.91,291.55 1270.75,284.76 1281.39,271.79 1290.03,280.43" fill="#90a87b"/>
<polygon points="1270.75,284.76 1260.58,277.97 1272.74,263.14 1281.39,271.79" fill="#1b8070"/>
<polygon points="1260.58,277.97 1250.42,271.17 1264.10,254.50 1272.74,263.14" fill="#bab48c"/>
<polygon points="1250.42,271.17 1240.25,264.38 1255.46,245.86 1264.10,254.50" fill="#d6c2a6"/>
<polygon points="1341.90,332.30 1333.26,323.66 1335.11,322.14 1341.90,332.30" fill="#f0eff5"/>
<polygon points="1333.26,323.66 1324.61,315.01 1328.32,311.97 1335.11,322.14" fill="#66996f"/>
<polygon points="1324.61,315.01 1315.97,306.37 1321.52,301.81 1328.32,311.97" fill="#90a87b"/>
<polygon points="1315.97,306.37 1307.32,297.72 1314.73,291.64 1321.52,301.81" fill="#90a87b"/>
<polygon points="1307.32,297.72 1298.68,289.08 1307.94,281.48 1314.73,291.64" fill="#66996f"/>
<polygon points="1298.68,289.08 1290.03,280.43 1301.15,271.31 1307.94,281.48" fill="#90a87b"/>
<polygon points="1290.03,280.43 1281.39,271.79 1294.36,261.15 1301.15,271.31" fill="#3f8d6d"/>
<polygon points="1281.39,271.79 1272.74,263.14 1287.57,250.98 1294.36,261.15" fill="#d6c2a6"/>
<polygon points="1272.74,263.14 1264.10,254.50 1280.77,240.82 1287.57,250.98" fill="#d6c2a6"/>
<polygon points="1264.10,254.50 1255.46,245.86 1273.98,230.65 1280.77,240.82" fill="#e3dad8"/>
<polygon points="1341.90,332.30 1335.11,322.14 1337.22,321.01 1341.90,332.30" fill="#f0eff5"/>
<polygon points="1335.11,322.14 1328.32,311.97 1332.54,309.71 1337.22,321.01" fill="#3f8d6d"/>
<polygon points="1328.32,311.97 1321.52,301.81 1327.87,298.42 1332.54,309.71" fill="#66996f"/>
<polygon points="1321.52,301.81 1314.73,291.64 1323.19,287.12 1327.87,298.42" fill="#3f8d6d"/>
<polygon points="1314.73,291.64 1307.94,281.48 1318.51,275.83 1323.19,287.12" fill="#1b8070"/>
<polygon points="1307.94,281.48 1301.15,271.31 1313.83,264.53 1318.51,275.83" fill="#66996f"/>
<polygon points="1301.15,271.31 1294.36,261.15 1309.15,253.24 1313.83,264.53" fill="#d6c2a6"/>
<polygon points="1294.36,261.15 1287.57,250.98 1304.47,241.94 1309.15,253.24" fill="#66996f"/>
<polygon points="1341.90,332.30 1337.22,321.01 1339.52,320.31 1341.90,332.30" fill="#f0eff5"/>
<polygon points="1337.22,321.01 1332.54,309.71 1337.13,308.32 1339.52,320.31" fill="#90a87b"/>
<polygon points="1332.54,309.71 1327.87,298.42 1334.75,296.33 1337.13,308.32" fill="#3f8d6d"/>
<polygon points="1327.87,298.42 1323.19,287.12 1332.36,284.34 1334.75,296.33" fill="#1f4658"/>
<polygon points="1323.19,287.12 1318.51,275.83 1329.98,272.35 1332.36,284.34" fill="#076e6c"/>
<polygon points="1318.51,275.83 1313.83,264.53 1327.59,260.36 1329.98,272.35" fill="#d6c2a6"/>
<polygon points="1313.83,264.53 1309.15,253.24 1325.21,248.37 1327.59,260.36" fill="#90a87b"/>
<polygon points="1341.90,332.30 1339.52,320.31 1341.90,320.07 1341.90,332.30" fill="#f0eff5"/>
<polygon points="1339.52,320.31 1337.13,308.32 1341.90,307.85 1341.90,320.07" fill="#1b8070"/>
<polygon points="1337.13,308.32 1334.75,296.33 1341.90,295.62 1341.90,307.85" fill="#1b8070"/>
<polygon points="1334.75,296.33 1332.36,284.34 1341.90,283.40 1341.90,295.62" fill="#242f48"/>
<polygon points="1332.36,284.34 1329.98,272.35 1341.90,271.18 1341.90,283.40" fill="#66996f"/>
<polygon points="1329.98,272.35 1327.59,260.36 1341.90,258.95 1341.90,271.18" fill="#66996f"/>
<polygon points="1327.59,260.36 1325.21,248.37 1341.90,246.73 1341.90,258.95" fill="#bab48c"/>
<polygon points="1325.21,248.37 1322.82,236.38 1341.90,234.50 1341.90,246.73" fill="#d6c2a6"/></g>
<circle cx="1341.90" cy="332.30" r="39.12" fill="none" stroke="#b0b0b0" stroke-width="1.25"/>
<circle cx="1341.90" cy="332.30" r="78.24" fill="none" stroke="#b0b0b0" stroke-width="1.25"/>
<circle cx="1341.90" cy="332.30" r="117.36" fill="none" stroke="#b0b0b0" stroke-width="1.25"/>
<circle cx="1341.90" cy="332.30" r="156.48" fill="none" stroke="#b0b0b0" stroke-width="1.25"/>
<circle cx="1341.90" cy="332.30" r="195.60" fill="none" stroke="#b0b0b0" stroke-width="1.25"/>
<line x1="1342.50" y1="332.30" x2="1342.50" y2="98.30" stroke="#b0b0b0" stroke-width="1.25"/>
<line x1="1341.90" y1="332.30" x2="1507.36" y2="166.84" stroke="#b0b0b0" stroke-width="1.25"/>
<line x1="1341.90" y1="332.50" x2="1575.90" y2="332.50" stroke="#b0b0b0" stroke-width="1.25"/>
<line x1="1341.90" y1="332.30" x2="1507.36" y2="497.76" stroke="#b0b0b0" stroke-width="1.25"/>
<line x1="1342.50" y1="332.30" x2="1342.50" y2="566.30" stroke="#b0b0b0" stroke-width="1.25"/>
<line x1="1341.90" y1="332.30" x2="1176.44" y2="497.76" stroke="#b0b0b0" stroke-width="1.25"/>
<line x1="1341.90" y1="332.50" x2="1107.90" y2="332.50" stroke="#b0b0b0" stroke-width="1.25"/>
<line x1="1341.90" y1="332.30" x2="1176.44" y2="166.84" stroke="#b0b0b0" stroke-width="1.25"/>
<circle cx="1341.90" cy="332.30" r="234.00" fill="none" stroke="#000" stroke-width="1.3"/>
<text x="1341.9" y="83.7" font-size="19.0" text-anchor="middle">N</text>
<text x="1341.9" y="591.0" font-size="19.0" text-anchor="middle">S</text>
<text x="1089.0" y="337.9" font-size="19.0" text-anchor="middle">W</text>
<text x="1596.4" y="337.9" font-size="19.0" text-anchor="middle">E</text>
<text x="1392.9" y="312.8" font-size="19.0" text-anchor="middle" textLength="27.5" lengthAdjust="spacingAndGlyphs">0.2</text>
<text x="1429.6" y="298.0" font-size="19.0" text-anchor="middle" textLength="27.5" lengthAdjust="spacingAndGlyphs">0.4</text>
<text x="1465.5" y="282.8" font-size="19.0" text-anchor="middle" textLength="27.5" lengthAdjust="spacingAndGlyphs">0.6</text>
<text x="1501.4" y="267.7" font-size="19.0" text-anchor="middle" textLength="27.5" lengthAdjust="spacingAndGlyphs">0.8</text>
<text x="1538.3" y="253.1" font-size="19.0" text-anchor="middle" textLength="27.5" lengthAdjust="spacingAndGlyphs">1.0</text>
<text x="1341.9" y="60.9" font-size="25.0" text-anchor="middle" textLength="180.0" lengthAdjust="spacingAndGlyphs">CIOFS-NWGOA</text>
<text x="804.6" y="32.0" font-size="30.2" text-anchor="middle" textLength="112.6" lengthAdjust="spacingAndGlyphs">Jul 2008</text>
<defs><linearGradient id="cb" x1="0" x2="1" y1="0" y2="0"><stop offset="0.0000" stop-color="#f0eff5"/><stop offset="0.0833" stop-color="#e3dad8"/><stop offset="0.1667" stop-color="#d6c2a6"/><stop offset="0.2500" stop-color="#bab48c"/><stop offset="0.3333" stop-color="#90a87b"/><stop offset="0.4167" stop-color="#66996f"/><stop offset="0.5000" stop-color="#3f8d6d"/><stop offset="0.5833" stop-color="#1b8070"/><stop offset="0.6667" stop-color="#076e6c"/><stop offset="0.7500" stop-color="#115a67"/><stop offset="0.8333" stop-color="#1f4658"/><stop offset="0.9167" stop-color="#242f48"/><stop offset="1.0000" stop-color="#231a38"/></linearGradient></defs>
<rect x="406.2" y="605.4" width="800.1" height="30.1" fill="url(#cb)" stroke="#000" stroke-width="1"/>
<line x1="406.2" y1="635.5" x2="406.2" y2="657.2" stroke="#000" stroke-width="1.1"/>
<text x="406.2" y="681.0" font-size="23.0" text-anchor="middle">0</text>
<line x1="539.5" y1="635.5" x2="539.5" y2="657.2" stroke="#000" stroke-width="1.1"/>
<text x="539.5" y="681.0" font-size="23.0" text-anchor="middle">2</text>
<line x1="672.9" y1="635.5" x2="672.9" y2="657.2" stroke="#000" stroke-width="1.1"/>
<text x="672.9" y="681.0" font-size="23.0" text-anchor="middle">4</text>
<line x1="806.2" y1="635.5" x2="806.2" y2="657.2" stroke="#000" stroke-width="1.1"/>
<text x="806.2" y="681.0" font-size="23.0" text-anchor="middle">6</text>
<line x1="939.6" y1="635.5" x2="939.6" y2="657.2" stroke="#000" stroke-width="1.1"/>
<text x="939.6" y="681.0" font-size="23.0" text-anchor="middle">8</text>
<line x1="1072.9" y1="635.5" x2="1072.9" y2="657.2" stroke="#000" stroke-width="1.1"/>
<text x="1072.9" y="681.0" font-size="23.0" text-anchor="middle">10</text>
<line x1="1206.3" y1="635.5" x2="1206.3" y2="657.2" stroke="#000" stroke-width="1.1"/>
<text x="1206.3" y="681.0" font-size="23.0" text-anchor="middle">12</text>
<text x="805.2" y="708.8" font-size="23.0" text-anchor="middle" textLength="562.8" lengthAdjust="spacingAndGlyphs">Currents [m/s] at COI0801; number of occurrences</text>
</svg></body></html>
